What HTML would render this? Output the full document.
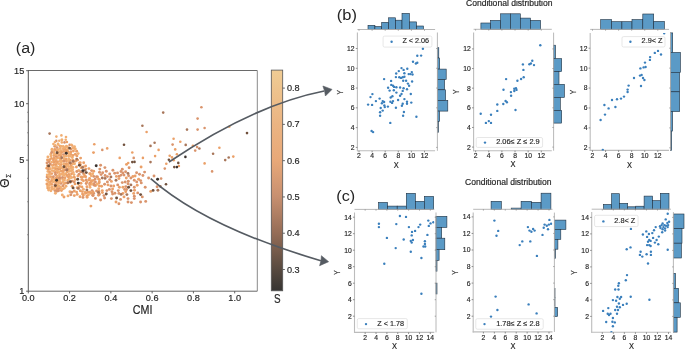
<!DOCTYPE html>
<html><head><meta charset="utf-8"><style>
html,body{margin:0;padding:0;background:#fff;width:685px;height:350px;overflow:hidden}
svg{display:block;font-family:"Liberation Sans",sans-serif;will-change:transform;filter:blur(0.3px)}
</style></head><body>
<svg width="685" height="350" viewBox="0 0 685 350" font-family="'Liberation Sans', sans-serif">
<rect width="685" height="350" fill="#fff"/>
<clipPath id="ca"><rect x="28.3" y="70.5" width="229.0" height="220.7"/></clipPath>
<g clip-path="url(#ca)">
<circle cx="53.7" cy="151.8" r="1.45" fill="#f1ae72"/>
<circle cx="57.0" cy="147.6" r="1.45" fill="#da946c"/>
<circle cx="56.7" cy="187.0" r="1.45" fill="#f1ae72"/>
<circle cx="50.7" cy="176.6" r="1.45" fill="#eba068"/>
<circle cx="61.3" cy="164.6" r="1.45" fill="#eba068"/>
<circle cx="47.5" cy="160.0" r="1.45" fill="#eba068"/>
<circle cx="49.4" cy="174.2" r="1.45" fill="#f1ae72"/>
<circle cx="55.2" cy="172.5" r="1.45" fill="#da946c"/>
<circle cx="64.4" cy="166.2" r="1.45" fill="#f1ae72"/>
<circle cx="61.6" cy="167.6" r="1.45" fill="#f1ae72"/>
<circle cx="67.8" cy="180.3" r="1.45" fill="#f1ae72"/>
<circle cx="61.2" cy="171.3" r="1.45" fill="#eba068"/>
<circle cx="65.9" cy="159.0" r="1.45" fill="#eba068"/>
<circle cx="47.5" cy="165.7" r="1.45" fill="#eba068"/>
<circle cx="48.6" cy="169.4" r="1.45" fill="#da946c"/>
<circle cx="64.0" cy="183.8" r="1.45" fill="#f1ae72"/>
<circle cx="70.3" cy="160.3" r="1.45" fill="#eba068"/>
<circle cx="61.8" cy="174.2" r="1.45" fill="#f1ae72"/>
<circle cx="58.2" cy="178.5" r="1.45" fill="#da946c"/>
<circle cx="65.0" cy="177.7" r="1.45" fill="#eba068"/>
<circle cx="68.7" cy="158.8" r="1.45" fill="#f1ae72"/>
<circle cx="57.9" cy="152.7" r="1.45" fill="#f1ae72"/>
<circle cx="47.9" cy="156.9" r="1.45" fill="#f1ae72"/>
<circle cx="57.5" cy="172.6" r="1.45" fill="#eba068"/>
<circle cx="52.4" cy="165.6" r="1.45" fill="#f1ae72"/>
<circle cx="51.0" cy="156.1" r="1.45" fill="#f1ae72"/>
<circle cx="56.6" cy="163.2" r="1.45" fill="#f1ae72"/>
<circle cx="59.5" cy="176.1" r="1.45" fill="#eba068"/>
<circle cx="67.9" cy="164.4" r="1.45" fill="#f1ae72"/>
<circle cx="47.1" cy="177.0" r="1.45" fill="#da946c"/>
<circle cx="48.9" cy="161.7" r="1.45" fill="#da946c"/>
<circle cx="47.0" cy="162.9" r="1.45" fill="#da946c"/>
<circle cx="70.2" cy="175.9" r="1.45" fill="#f1ae72"/>
<circle cx="51.6" cy="162.1" r="1.45" fill="#f1ae72"/>
<circle cx="47.7" cy="188.1" r="1.45" fill="#eba068"/>
<circle cx="58.0" cy="169.2" r="1.45" fill="#da946c"/>
<circle cx="51.9" cy="187.1" r="1.45" fill="#f1ae72"/>
<circle cx="59.8" cy="151.6" r="1.45" fill="#f1ae72"/>
<circle cx="67.2" cy="171.7" r="1.45" fill="#eba068"/>
<circle cx="53.9" cy="155.6" r="1.45" fill="#eba068"/>
<circle cx="66.2" cy="155.8" r="1.45" fill="#f1ae72"/>
<circle cx="51.8" cy="180.0" r="1.45" fill="#eba068"/>
<circle cx="50.8" cy="154.2" r="1.45" fill="#f1ae72"/>
<circle cx="69.2" cy="168.9" r="1.45" fill="#f1ae72"/>
<circle cx="67.5" cy="183.0" r="1.45" fill="#f1ae72"/>
<circle cx="49.4" cy="185.0" r="1.45" fill="#f1ae72"/>
<circle cx="55.9" cy="164.9" r="1.45" fill="#eba068"/>
<circle cx="65.7" cy="152.8" r="1.45" fill="#f1ae72"/>
<circle cx="68.2" cy="151.6" r="1.45" fill="#eba068"/>
<circle cx="57.0" cy="189.3" r="1.45" fill="#eba068"/>
<circle cx="56.6" cy="150.8" r="1.45" fill="#eba068"/>
<circle cx="54.6" cy="167.8" r="1.45" fill="#f1ae72"/>
<circle cx="71.1" cy="165.9" r="1.45" fill="#eba068"/>
<circle cx="59.0" cy="171.7" r="1.45" fill="#f1ae72"/>
<circle cx="58.2" cy="181.7" r="1.45" fill="#f1ae72"/>
<circle cx="53.8" cy="171.0" r="1.45" fill="#f1ae72"/>
<circle cx="67.5" cy="149.5" r="1.45" fill="#f1ae72"/>
<circle cx="51.5" cy="158.4" r="1.45" fill="#eba068"/>
<circle cx="57.3" cy="175.9" r="1.45" fill="#f1ae72"/>
<circle cx="59.4" cy="180.0" r="1.45" fill="#f1ae72"/>
<circle cx="60.0" cy="168.9" r="1.45" fill="#eba068"/>
<circle cx="72.3" cy="157.5" r="1.45" fill="#f1ae72"/>
<circle cx="70.9" cy="152.0" r="1.45" fill="#eba068"/>
<circle cx="63.8" cy="151.4" r="1.45" fill="#eba068"/>
<circle cx="73.0" cy="155.4" r="1.45" fill="#eba068"/>
<circle cx="55.9" cy="169.3" r="1.45" fill="#eba068"/>
<circle cx="56.9" cy="170.8" r="1.45" fill="#f1ae72"/>
<circle cx="52.1" cy="150.7" r="1.45" fill="#f1ae72"/>
<circle cx="71.6" cy="173.7" r="1.45" fill="#eba068"/>
<circle cx="63.0" cy="185.7" r="1.45" fill="#da946c"/>
<circle cx="47.9" cy="171.4" r="1.45" fill="#f1ae72"/>
<circle cx="53.4" cy="159.9" r="1.45" fill="#eba068"/>
<circle cx="60.5" cy="153.9" r="1.45" fill="#f1ae72"/>
<circle cx="68.6" cy="166.5" r="1.45" fill="#f1ae72"/>
<circle cx="73.5" cy="161.8" r="1.45" fill="#eba068"/>
<circle cx="51.7" cy="152.5" r="1.45" fill="#da946c"/>
<circle cx="64.1" cy="158.7" r="1.45" fill="#f1ae72"/>
<circle cx="52.8" cy="167.9" r="1.45" fill="#f1ae72"/>
<circle cx="57.4" cy="157.7" r="1.45" fill="#eba068"/>
<circle cx="73.2" cy="172.4" r="1.45" fill="#f1ae72"/>
<circle cx="73.0" cy="160.1" r="1.45" fill="#f1ae72"/>
<circle cx="55.7" cy="161.0" r="1.45" fill="#eba068"/>
<circle cx="48.5" cy="181.7" r="1.45" fill="#f1ae72"/>
<circle cx="66.0" cy="186.2" r="1.45" fill="#f1ae72"/>
<circle cx="68.8" cy="174.4" r="1.45" fill="#eba068"/>
<circle cx="64.5" cy="180.1" r="1.45" fill="#f1ae72"/>
<circle cx="54.8" cy="149.5" r="1.45" fill="#eba068"/>
<circle cx="62.8" cy="179.4" r="1.45" fill="#f1ae72"/>
<circle cx="60.1" cy="178.3" r="1.45" fill="#da946c"/>
<circle cx="58.8" cy="163.9" r="1.45" fill="#f1ae72"/>
<circle cx="62.5" cy="177.4" r="1.45" fill="#da946c"/>
<circle cx="70.8" cy="154.4" r="1.45" fill="#eba068"/>
<circle cx="73.0" cy="167.4" r="1.45" fill="#f1ae72"/>
<circle cx="50.9" cy="190.7" r="1.45" fill="#f1ae72"/>
<circle cx="58.8" cy="167.4" r="1.45" fill="#f1ae72"/>
<circle cx="74.0" cy="174.6" r="1.45" fill="#f1ae72"/>
<circle cx="52.0" cy="170.6" r="1.45" fill="#f1ae72"/>
<circle cx="66.0" cy="167.4" r="1.45" fill="#eba068"/>
<circle cx="51.8" cy="178.1" r="1.45" fill="#f1ae72"/>
<circle cx="58.9" cy="155.4" r="1.45" fill="#eba068"/>
<circle cx="51.8" cy="173.6" r="1.45" fill="#eba068"/>
<circle cx="66.5" cy="165.5" r="1.45" fill="#f1ae72"/>
<circle cx="62.9" cy="188.9" r="1.45" fill="#f1ae72"/>
<circle cx="59.7" cy="174.3" r="1.45" fill="#f1ae72"/>
<circle cx="56.6" cy="179.5" r="1.45" fill="#f1ae72"/>
<circle cx="68.6" cy="156.0" r="1.45" fill="#f1ae72"/>
<circle cx="72.6" cy="169.8" r="1.45" fill="#f1ae72"/>
<circle cx="63.9" cy="163.7" r="1.45" fill="#f1ae72"/>
<circle cx="54.9" cy="190.6" r="1.45" fill="#da946c"/>
<circle cx="54.2" cy="158.2" r="1.45" fill="#eba068"/>
<circle cx="72.6" cy="164.1" r="1.45" fill="#f1ae72"/>
<circle cx="62.2" cy="161.0" r="1.45" fill="#f1ae72"/>
<circle cx="54.9" cy="184.7" r="1.45" fill="#da946c"/>
<circle cx="49.9" cy="183.2" r="1.45" fill="#f1ae72"/>
<circle cx="69.4" cy="178.6" r="1.45" fill="#f1ae72"/>
<circle cx="48.6" cy="190.0" r="1.45" fill="#f1ae72"/>
<circle cx="53.8" cy="164.6" r="1.45" fill="#eba068"/>
<circle cx="51.8" cy="184.4" r="1.45" fill="#eba068"/>
<circle cx="47.2" cy="175.0" r="1.45" fill="#f1ae72"/>
<circle cx="63.5" cy="154.6" r="1.45" fill="#da946c"/>
<circle cx="53.8" cy="179.3" r="1.45" fill="#f1ae72"/>
<circle cx="63.2" cy="148.7" r="1.45" fill="#f1ae72"/>
<circle cx="61.0" cy="162.6" r="1.45" fill="#f1ae72"/>
<circle cx="68.9" cy="153.5" r="1.45" fill="#f1ae72"/>
<circle cx="60.9" cy="183.4" r="1.45" fill="#da946c"/>
<circle cx="58.2" cy="149.6" r="1.45" fill="#f1ae72"/>
<circle cx="63.3" cy="173.2" r="1.45" fill="#f1ae72"/>
<circle cx="56.2" cy="156.4" r="1.45" fill="#da946c"/>
<circle cx="57.1" cy="185.0" r="1.45" fill="#f1ae72"/>
<circle cx="66.4" cy="161.0" r="1.45" fill="#eba068"/>
<circle cx="65.7" cy="173.7" r="1.45" fill="#f1ae72"/>
<circle cx="54.9" cy="186.5" r="1.45" fill="#eba068"/>
<circle cx="68.4" cy="177.0" r="1.45" fill="#eba068"/>
<circle cx="65.0" cy="169.9" r="1.45" fill="#da946c"/>
<circle cx="70.5" cy="156.1" r="1.45" fill="#f1ae72"/>
<circle cx="49.1" cy="166.8" r="1.45" fill="#eba068"/>
<circle cx="61.4" cy="150.6" r="1.45" fill="#f1ae72"/>
<circle cx="49.7" cy="159.7" r="1.45" fill="#eba068"/>
<circle cx="50.2" cy="164.2" r="1.45" fill="#da946c"/>
<circle cx="56.1" cy="182.5" r="1.45" fill="#eba068"/>
<circle cx="50.9" cy="181.6" r="1.45" fill="#eba068"/>
<circle cx="53.4" cy="176.7" r="1.45" fill="#da946c"/>
<circle cx="60.9" cy="155.8" r="1.45" fill="#eba068"/>
<circle cx="69.0" cy="162.4" r="1.45" fill="#eba068"/>
<circle cx="58.5" cy="190.7" r="1.45" fill="#da946c"/>
<circle cx="54.2" cy="188.8" r="1.45" fill="#f1ae72"/>
<circle cx="60.6" cy="187.0" r="1.45" fill="#f1ae72"/>
<circle cx="59.1" cy="158.1" r="1.45" fill="#f1ae72"/>
<circle cx="47.6" cy="186.1" r="1.45" fill="#f1ae72"/>
<circle cx="53.3" cy="181.9" r="1.45" fill="#f1ae72"/>
<circle cx="70.6" cy="163.6" r="1.45" fill="#eba068"/>
<circle cx="61.4" cy="190.6" r="1.45" fill="#eba068"/>
<circle cx="48.3" cy="179.2" r="1.45" fill="#da946c"/>
<circle cx="57.6" cy="161.7" r="1.45" fill="#eba068"/>
<circle cx="50.3" cy="168.8" r="1.45" fill="#f1ae72"/>
<circle cx="69.0" cy="171.4" r="1.45" fill="#f1ae72"/>
<circle cx="46.9" cy="180.3" r="1.45" fill="#f1ae72"/>
<circle cx="65.1" cy="149.3" r="1.45" fill="#eba068"/>
<circle cx="56.2" cy="159.0" r="1.45" fill="#f1ae72"/>
<circle cx="55.5" cy="174.5" r="1.45" fill="#da946c"/>
<circle cx="54.1" cy="162.3" r="1.45" fill="#eba068"/>
<circle cx="56.8" cy="191.3" r="1.45" fill="#da946c"/>
<circle cx="49.4" cy="187.7" r="1.45" fill="#f1ae72"/>
<circle cx="56.3" cy="154.5" r="1.45" fill="#f1ae72"/>
<circle cx="64.1" cy="156.4" r="1.45" fill="#f1ae72"/>
<circle cx="71.6" cy="177.5" r="1.45" fill="#f1ae72"/>
<circle cx="60.6" cy="159.1" r="1.45" fill="#eba068"/>
<circle cx="49.6" cy="171.9" r="1.45" fill="#eba068"/>
<circle cx="63.7" cy="175.3" r="1.45" fill="#f1ae72"/>
<circle cx="66.3" cy="163.7" r="1.45" fill="#eba068"/>
<circle cx="55.0" cy="181.1" r="1.45" fill="#f1ae72"/>
<circle cx="56.2" cy="177.7" r="1.45" fill="#eba068"/>
<circle cx="64.0" cy="161.1" r="1.45" fill="#da946c"/>
<circle cx="46.8" cy="168.2" r="1.45" fill="#eba068"/>
<circle cx="60.2" cy="148.6" r="1.45" fill="#f1ae72"/>
<circle cx="66.4" cy="151.0" r="1.45" fill="#eba068"/>
<circle cx="60.6" cy="188.8" r="1.45" fill="#f1ae72"/>
<circle cx="62.9" cy="181.7" r="1.45" fill="#f1ae72"/>
<circle cx="60.0" cy="181.7" r="1.45" fill="#f1ae72"/>
<circle cx="54.2" cy="153.8" r="1.45" fill="#f1ae72"/>
<circle cx="66.9" cy="175.5" r="1.45" fill="#eba068"/>
<circle cx="65.6" cy="183.0" r="1.45" fill="#eba068"/>
<circle cx="63.2" cy="168.8" r="1.45" fill="#f1ae72"/>
<circle cx="61.7" cy="152.4" r="1.45" fill="#eba068"/>
<circle cx="58.9" cy="186.1" r="1.45" fill="#f1ae72"/>
<circle cx="60.0" cy="161.0" r="1.45" fill="#f1ae72"/>
<circle cx="46.9" cy="183.9" r="1.45" fill="#eba068"/>
<circle cx="64.5" cy="188.1" r="1.45" fill="#f1ae72"/>
<circle cx="60.3" cy="166.1" r="1.45" fill="#f1ae72"/>
<circle cx="58.8" cy="183.4" r="1.45" fill="#f1ae72"/>
<circle cx="56.6" cy="166.5" r="1.45" fill="#f1ae72"/>
<circle cx="71.0" cy="170.8" r="1.45" fill="#f1ae72"/>
<circle cx="48.9" cy="176.7" r="1.45" fill="#f1ae72"/>
<circle cx="71.0" cy="167.8" r="1.45" fill="#f1ae72"/>
<circle cx="63.1" cy="171.3" r="1.45" fill="#eba068"/>
<circle cx="51.9" cy="189.1" r="1.45" fill="#f1ae72"/>
<circle cx="58.7" cy="188.6" r="1.45" fill="#da946c"/>
<circle cx="68.1" cy="160.6" r="1.45" fill="#f1ae72"/>
<circle cx="67.1" cy="169.5" r="1.45" fill="#da946c"/>
<circle cx="66.4" cy="146.3" r="1.45" fill="#f1ae72"/>
<circle cx="61.8" cy="142.4" r="1.3" fill="#f1ae72"/>
<circle cx="69.6" cy="144.9" r="1.3" fill="#da946c"/>
<circle cx="76.7" cy="151.3" r="1.45" fill="#eba068"/>
<circle cx="56.3" cy="140.9" r="1.3" fill="#da946c"/>
<circle cx="53.4" cy="144.0" r="1.3" fill="#f1ae72"/>
<circle cx="62.1" cy="139.8" r="1.3" fill="#f1ae72"/>
<circle cx="72.1" cy="145.6" r="1.3" fill="#eba068"/>
<circle cx="73.4" cy="151.0" r="1.45" fill="#eba068"/>
<circle cx="63.2" cy="146.4" r="1.45" fill="#f1ae72"/>
<circle cx="76.9" cy="155.9" r="1.45" fill="#eba068"/>
<circle cx="66.9" cy="142.0" r="1.3" fill="#eba068"/>
<circle cx="70.9" cy="149.0" r="1.45" fill="#da946c"/>
<circle cx="75.4" cy="154.2" r="1.45" fill="#eba068"/>
<circle cx="64.5" cy="142.4" r="1.3" fill="#da946c"/>
<circle cx="74.5" cy="146.7" r="1.45" fill="#f1ae72"/>
<circle cx="58.1" cy="143.7" r="1.3" fill="#f1ae72"/>
<circle cx="59.3" cy="140.7" r="1.3" fill="#f1ae72"/>
<circle cx="78.2" cy="153.6" r="1.45" fill="#f1ae72"/>
<circle cx="60.3" cy="146.2" r="1.45" fill="#eba068"/>
<circle cx="75.3" cy="149.0" r="1.45" fill="#f1ae72"/>
<circle cx="54.8" cy="146.2" r="1.45" fill="#da946c"/>
<circle cx="98.5" cy="195.3" r="1.45" fill="#eba068"/>
<circle cx="89.6" cy="178.4" r="1.45" fill="#eba068"/>
<circle cx="90.3" cy="173.8" r="1.45" fill="#f1ae72"/>
<circle cx="81.0" cy="183.3" r="1.45" fill="#eba068"/>
<circle cx="78.7" cy="170.5" r="1.45" fill="#f1ae72"/>
<circle cx="83.7" cy="162.8" r="1.45" fill="#eba068"/>
<circle cx="89.9" cy="183.2" r="1.45" fill="#da946c"/>
<circle cx="74.5" cy="163.8" r="1.45" fill="#f1ae72"/>
<circle cx="99.0" cy="193.4" r="1.45" fill="#eba068"/>
<circle cx="80.6" cy="171.8" r="1.45" fill="#da946c"/>
<circle cx="83.0" cy="197.4" r="1.45" fill="#da946c"/>
<circle cx="95.6" cy="185.5" r="1.45" fill="#eba068"/>
<circle cx="75.7" cy="161.0" r="1.45" fill="#eba068"/>
<circle cx="92.7" cy="173.7" r="1.45" fill="#f1ae72"/>
<circle cx="83.4" cy="189.2" r="1.45" fill="#f1ae72"/>
<circle cx="77.9" cy="175.9" r="1.45" fill="#eba068"/>
<circle cx="92.1" cy="190.6" r="1.45" fill="#da946c"/>
<circle cx="84.7" cy="176.3" r="1.45" fill="#eba068"/>
<circle cx="97.6" cy="176.9" r="1.45" fill="#eba068"/>
<circle cx="93.4" cy="180.4" r="1.45" fill="#eba068"/>
<circle cx="72.1" cy="181.1" r="1.45" fill="#da946c"/>
<circle cx="72.1" cy="186.2" r="1.45" fill="#eba068"/>
<circle cx="90.0" cy="187.3" r="1.45" fill="#f1ae72"/>
<circle cx="92.7" cy="195.2" r="1.45" fill="#eba068"/>
<circle cx="84.9" cy="192.1" r="1.45" fill="#f1ae72"/>
<circle cx="91.6" cy="170.6" r="1.45" fill="#da946c"/>
<circle cx="79.5" cy="163.1" r="1.45" fill="#eba068"/>
<circle cx="95.2" cy="179.0" r="1.45" fill="#da946c"/>
<circle cx="81.8" cy="179.6" r="1.45" fill="#eba068"/>
<circle cx="91.4" cy="181.7" r="1.45" fill="#eba068"/>
<circle cx="84.0" cy="174.2" r="1.45" fill="#eba068"/>
<circle cx="77.2" cy="194.4" r="1.45" fill="#eba068"/>
<circle cx="87.1" cy="197.2" r="1.45" fill="#eba068"/>
<circle cx="93.7" cy="176.4" r="1.45" fill="#da946c"/>
<circle cx="74.2" cy="181.8" r="1.45" fill="#da946c"/>
<circle cx="80.3" cy="190.8" r="1.45" fill="#eba068"/>
<circle cx="93.7" cy="171.2" r="1.45" fill="#eba068"/>
<circle cx="70.3" cy="182.3" r="1.45" fill="#da946c"/>
<circle cx="93.9" cy="183.7" r="1.45" fill="#da946c"/>
<circle cx="86.3" cy="180.0" r="1.45" fill="#da946c"/>
<circle cx="69.9" cy="191.8" r="1.45" fill="#f1ae72"/>
<circle cx="76.8" cy="171.5" r="1.45" fill="#da946c"/>
<circle cx="70.8" cy="194.8" r="1.45" fill="#da946c"/>
<circle cx="81.0" cy="176.9" r="1.45" fill="#eba068"/>
<circle cx="79.6" cy="186.4" r="1.45" fill="#eba068"/>
<circle cx="86.9" cy="186.8" r="1.45" fill="#eba068"/>
<circle cx="75.0" cy="183.9" r="1.45" fill="#eba068"/>
<circle cx="98.7" cy="188.7" r="1.45" fill="#f1ae72"/>
<circle cx="88.9" cy="168.6" r="1.45" fill="#eba068"/>
<circle cx="86.2" cy="183.5" r="1.45" fill="#da946c"/>
<circle cx="71.9" cy="192.2" r="1.45" fill="#da946c"/>
<circle cx="90.9" cy="193.3" r="1.45" fill="#eba068"/>
<circle cx="99.0" cy="182.9" r="1.45" fill="#eba068"/>
<circle cx="81.1" cy="167.8" r="1.45" fill="#f1ae72"/>
<circle cx="79.1" cy="174.2" r="1.45" fill="#da946c"/>
<circle cx="81.9" cy="186.9" r="1.45" fill="#eba068"/>
<circle cx="98.5" cy="179.1" r="1.45" fill="#eba068"/>
<circle cx="80.4" cy="164.8" r="1.45" fill="#eba068"/>
<circle cx="78.2" cy="184.1" r="1.45" fill="#f1ae72"/>
<circle cx="76.4" cy="167.0" r="1.45" fill="#eba068"/>
<circle cx="82.5" cy="194.1" r="1.45" fill="#eba068"/>
<circle cx="85.6" cy="166.0" r="1.45" fill="#eba068"/>
<circle cx="83.3" cy="167.0" r="1.45" fill="#eba068"/>
<circle cx="77.2" cy="187.7" r="1.45" fill="#eba068"/>
<circle cx="97.1" cy="184.2" r="1.45" fill="#f1ae72"/>
<circle cx="98.9" cy="191.2" r="1.45" fill="#eba068"/>
<circle cx="75.3" cy="179.6" r="1.45" fill="#f1ae72"/>
<circle cx="88.5" cy="194.7" r="1.45" fill="#f1ae72"/>
<circle cx="87.7" cy="192.3" r="1.45" fill="#eba068"/>
<circle cx="91.3" cy="175.8" r="1.45" fill="#f1ae72"/>
<circle cx="93.7" cy="193.4" r="1.45" fill="#da946c"/>
<circle cx="91.9" cy="184.3" r="1.45" fill="#f1ae72"/>
<circle cx="141.3" cy="182.9" r="1.45" fill="#da946c"/>
<circle cx="138.6" cy="179.3" r="1.45" fill="#eba068"/>
<circle cx="99.5" cy="172.2" r="1.45" fill="#da946c"/>
<circle cx="102.4" cy="192.6" r="1.45" fill="#eba068"/>
<circle cx="134.5" cy="190.3" r="1.45" fill="#eba068"/>
<circle cx="126.6" cy="189.5" r="1.45" fill="#da946c"/>
<circle cx="114.7" cy="173.3" r="1.45" fill="#da946c"/>
<circle cx="132.9" cy="176.5" r="1.45" fill="#eba068"/>
<circle cx="135.1" cy="176.0" r="1.45" fill="#eba068"/>
<circle cx="116.4" cy="176.4" r="1.45" fill="#eba068"/>
<circle cx="114.9" cy="193.2" r="1.45" fill="#da946c"/>
<circle cx="112.9" cy="170.2" r="1.45" fill="#da946c"/>
<circle cx="101.6" cy="186.3" r="1.45" fill="#eba068"/>
<circle cx="125.6" cy="171.7" r="1.45" fill="#da946c"/>
<circle cx="103.9" cy="195.6" r="1.45" fill="#da946c"/>
<circle cx="109.4" cy="189.4" r="1.45" fill="#da946c"/>
<circle cx="128.3" cy="181.3" r="1.45" fill="#da946c"/>
<circle cx="137.2" cy="185.3" r="1.45" fill="#eba068"/>
<circle cx="136.7" cy="181.9" r="1.45" fill="#da946c"/>
<circle cx="121.0" cy="171.5" r="1.45" fill="#da946c"/>
<circle cx="119.2" cy="176.3" r="1.45" fill="#da946c"/>
<circle cx="120.5" cy="199.4" r="1.45" fill="#da946c"/>
<circle cx="117.5" cy="172.9" r="1.45" fill="#da946c"/>
<circle cx="140.6" cy="180.6" r="1.45" fill="#da946c"/>
<circle cx="99.3" cy="182.0" r="1.45" fill="#eba068"/>
<circle cx="125.8" cy="186.6" r="1.45" fill="#da946c"/>
<circle cx="99.3" cy="194.4" r="1.45" fill="#da946c"/>
<circle cx="102.7" cy="172.7" r="1.45" fill="#da946c"/>
<circle cx="201.4" cy="107.2" r="1.3" fill="#da946c"/>
<circle cx="197.6" cy="118.6" r="1.3" fill="#da946c"/>
<circle cx="197.6" cy="129.6" r="1.3" fill="#da946c"/>
<circle cx="204.6" cy="128.0" r="1.3" fill="#da946c"/>
<circle cx="229.3" cy="126.8" r="1.3" fill="#f1ae72"/>
<circle cx="146.6" cy="132.0" r="1.3" fill="#eba068"/>
<circle cx="173.6" cy="138.8" r="1.3" fill="#eba068"/>
<circle cx="56.4" cy="136.6" r="1.3" fill="#f1ae72"/>
<circle cx="61.4" cy="135.4" r="1.3" fill="#f1ae72"/>
<circle cx="66.0" cy="137.0" r="1.3" fill="#f1ae72"/>
<circle cx="102.3" cy="149.9" r="1.3" fill="#da946c"/>
<circle cx="107.2" cy="148.4" r="1.3" fill="#eba068"/>
<circle cx="132.3" cy="152.5" r="1.3" fill="#eba068"/>
<circle cx="119.7" cy="157.9" r="1.3" fill="#eba068"/>
<circle cx="133.7" cy="157.9" r="1.3" fill="#da946c"/>
<circle cx="126.5" cy="164.4" r="1.45" fill="#eba068"/>
<circle cx="128.2" cy="163.0" r="1.3" fill="#eba068"/>
<circle cx="129.1" cy="167.8" r="1.45" fill="#da946c"/>
<circle cx="122.3" cy="169.3" r="1.45" fill="#da946c"/>
<circle cx="141.1" cy="167.0" r="1.45" fill="#eba068"/>
<circle cx="142.9" cy="157.9" r="1.3" fill="#eba068"/>
<circle cx="158.6" cy="149.9" r="1.3" fill="#eba068"/>
<circle cx="155.1" cy="156.1" r="1.3" fill="#eba068"/>
<circle cx="104.9" cy="167.6" r="1.45" fill="#da946c"/>
<circle cx="100.6" cy="165.3" r="1.45" fill="#da946c"/>
<circle cx="106.3" cy="171.3" r="1.45" fill="#da946c"/>
<circle cx="109.7" cy="173.9" r="1.45" fill="#da946c"/>
<circle cx="144.6" cy="172.1" r="1.45" fill="#da946c"/>
<circle cx="136.6" cy="172.7" r="1.45" fill="#da946c"/>
<circle cx="180.3" cy="141.8" r="1.3" fill="#eba068"/>
<circle cx="172.6" cy="144.6" r="1.3" fill="#da946c"/>
<circle cx="175.2" cy="149.4" r="1.3" fill="#eba068"/>
<circle cx="192.9" cy="145.8" r="1.3" fill="#eba068"/>
<circle cx="197.1" cy="147.1" r="1.3" fill="#da946c"/>
<circle cx="195.2" cy="150.6" r="1.3" fill="#da946c"/>
<circle cx="176.9" cy="154.2" r="1.3" fill="#eba068"/>
<circle cx="169.7" cy="155.7" r="1.3" fill="#eba068"/>
<circle cx="172.0" cy="157.4" r="1.3" fill="#eba068"/>
<circle cx="173.7" cy="160.3" r="1.3" fill="#eba068"/>
<circle cx="219.4" cy="147.7" r="1.3" fill="#eba068"/>
<circle cx="204.6" cy="163.4" r="1.3" fill="#eba068"/>
<circle cx="166.3" cy="163.7" r="1.3" fill="#eba068"/>
<circle cx="178.9" cy="166.0" r="1.3" fill="#eba068"/>
<circle cx="164.8" cy="168.6" r="1.3" fill="#da946c"/>
<circle cx="233.3" cy="156.6" r="1.3" fill="#eba068"/>
<circle cx="212.1" cy="171.4" r="1.3" fill="#da946c"/>
<circle cx="154.0" cy="176.0" r="1.45" fill="#da946c"/>
<circle cx="161.1" cy="178.6" r="1.3" fill="#da946c"/>
<circle cx="157.1" cy="186.7" r="1.45" fill="#da946c"/>
<circle cx="150.7" cy="191.4" r="1.45" fill="#eba068"/>
<circle cx="101.1" cy="174.6" r="1.45" fill="#da946c"/>
<circle cx="105.1" cy="175.5" r="1.45" fill="#da946c"/>
<circle cx="122.9" cy="172.9" r="1.45" fill="#da946c"/>
<circle cx="121.2" cy="175.1" r="1.45" fill="#da946c"/>
<circle cx="124.0" cy="175.1" r="1.45" fill="#da946c"/>
<circle cx="128.6" cy="175.7" r="1.45" fill="#da946c"/>
<circle cx="130.9" cy="178.0" r="1.45" fill="#da946c"/>
<circle cx="126.3" cy="178.0" r="1.45" fill="#eba068"/>
<circle cx="139.5" cy="174.3" r="1.45" fill="#da946c"/>
<circle cx="142.9" cy="175.5" r="1.45" fill="#da946c"/>
<circle cx="148.6" cy="178.0" r="1.45" fill="#da946c"/>
<circle cx="118.9" cy="178.6" r="1.45" fill="#eba068"/>
<circle cx="111.4" cy="181.4" r="1.45" fill="#eba068"/>
<circle cx="122.3" cy="182.6" r="1.45" fill="#da946c"/>
<circle cx="125.2" cy="182.0" r="1.45" fill="#da946c"/>
<circle cx="128.0" cy="183.7" r="1.45" fill="#da946c"/>
<circle cx="134.3" cy="180.3" r="1.45" fill="#da946c"/>
<circle cx="104.6" cy="184.3" r="1.45" fill="#da946c"/>
<circle cx="108.0" cy="184.9" r="1.45" fill="#eba068"/>
<circle cx="110.9" cy="186.0" r="1.45" fill="#da946c"/>
<circle cx="113.7" cy="186.0" r="1.45" fill="#eba068"/>
<circle cx="117.7" cy="184.9" r="1.45" fill="#da946c"/>
<circle cx="119.4" cy="187.2" r="1.45" fill="#eba068"/>
<circle cx="122.9" cy="187.2" r="1.45" fill="#eba068"/>
<circle cx="134.3" cy="187.2" r="1.45" fill="#da946c"/>
<circle cx="145.2" cy="187.2" r="1.45" fill="#da946c"/>
<circle cx="102.3" cy="190.6" r="1.45" fill="#eba068"/>
<circle cx="106.9" cy="190.6" r="1.45" fill="#da946c"/>
<circle cx="112.6" cy="188.9" r="1.45" fill="#eba068"/>
<circle cx="112.0" cy="191.7" r="1.45" fill="#da946c"/>
<circle cx="118.3" cy="190.6" r="1.45" fill="#da946c"/>
<circle cx="124.6" cy="189.4" r="1.45" fill="#da946c"/>
<circle cx="125.7" cy="191.7" r="1.45" fill="#eba068"/>
<circle cx="137.7" cy="192.9" r="1.45" fill="#da946c"/>
<circle cx="112.6" cy="194.0" r="1.45" fill="#da946c"/>
<circle cx="118.9" cy="193.4" r="1.45" fill="#da946c"/>
<circle cx="122.9" cy="193.4" r="1.45" fill="#eba068"/>
<circle cx="133.7" cy="193.4" r="1.45" fill="#eba068"/>
<circle cx="142.3" cy="196.9" r="1.45" fill="#da946c"/>
<circle cx="104.6" cy="198.0" r="1.45" fill="#da946c"/>
<circle cx="111.4" cy="198.6" r="1.45" fill="#da946c"/>
<circle cx="124.0" cy="196.9" r="1.45" fill="#eba068"/>
<circle cx="128.0" cy="198.6" r="1.45" fill="#da946c"/>
<circle cx="134.3" cy="196.3" r="1.45" fill="#da946c"/>
<circle cx="134.3" cy="198.6" r="1.45" fill="#da946c"/>
<circle cx="100.6" cy="200.0" r="1.45" fill="#da946c"/>
<circle cx="116.0" cy="202.0" r="1.45" fill="#eba068"/>
<circle cx="118.9" cy="203.7" r="1.45" fill="#da946c"/>
<circle cx="128.0" cy="202.0" r="1.45" fill="#da946c"/>
<circle cx="131.4" cy="202.6" r="1.45" fill="#da946c"/>
<circle cx="140.6" cy="202.0" r="1.45" fill="#da946c"/>
<circle cx="145.7" cy="201.4" r="1.45" fill="#da946c"/>
<circle cx="61.7" cy="139.8" r="1.3" fill="#f1ae72"/>
<circle cx="65.7" cy="139.8" r="1.3" fill="#f1ae72"/>
<circle cx="54.9" cy="142.1" r="1.3" fill="#f1ae72"/>
<circle cx="55.4" cy="145.3" r="1.3" fill="#f1ae72"/>
<circle cx="58.3" cy="144.7" r="1.3" fill="#f1ae72"/>
<circle cx="71.4" cy="144.7" r="1.3" fill="#f1ae72"/>
<circle cx="52.0" cy="149.3" r="1.45" fill="#f1ae72"/>
<circle cx="73.1" cy="148.1" r="1.45" fill="#f1ae72"/>
<circle cx="64.6" cy="147.6" r="1.45" fill="#f1ae72"/>
<circle cx="67.4" cy="147.0" r="1.45" fill="#f1ae72"/>
<circle cx="61.1" cy="146.4" r="1.45" fill="#f1ae72"/>
<circle cx="77.7" cy="160.1" r="1.45" fill="#eba068"/>
<circle cx="62.3" cy="195.0" r="1.45" fill="#f1ae72"/>
<circle cx="68.0" cy="195.9" r="1.45" fill="#f1ae72"/>
<circle cx="55.4" cy="193.3" r="1.45" fill="#f1ae72"/>
<circle cx="64.0" cy="197.0" r="1.45" fill="#eba068"/>
<circle cx="94.3" cy="144.3" r="1.3" fill="#eba068"/>
<circle cx="93.5" cy="152.6" r="1.45" fill="#eba068"/>
<circle cx="80.6" cy="158.1" r="1.45" fill="#eba068"/>
<circle cx="80.2" cy="162.6" r="1.45" fill="#eba068"/>
<circle cx="85.7" cy="169.1" r="1.45" fill="#eba068"/>
<circle cx="89.7" cy="173.7" r="1.45" fill="#eba068"/>
<circle cx="99.8" cy="169.1" r="1.45" fill="#da946c"/>
<circle cx="96.6" cy="176.6" r="1.45" fill="#da946c"/>
<circle cx="107.4" cy="176.6" r="1.45" fill="#da946c"/>
<circle cx="74.3" cy="177.3" r="1.45" fill="#eba068"/>
<circle cx="82.3" cy="177.3" r="1.45" fill="#eba068"/>
<circle cx="85.7" cy="176.7" r="1.45" fill="#eba068"/>
<circle cx="89.1" cy="180.1" r="1.45" fill="#eba068"/>
<circle cx="99.4" cy="179.6" r="1.45" fill="#eba068"/>
<circle cx="83.4" cy="180.7" r="1.45" fill="#eba068"/>
<circle cx="86.9" cy="181.9" r="1.45" fill="#eba068"/>
<circle cx="91.4" cy="180.7" r="1.45" fill="#eba068"/>
<circle cx="95.4" cy="181.9" r="1.45" fill="#da946c"/>
<circle cx="89.7" cy="184.7" r="1.45" fill="#eba068"/>
<circle cx="94.3" cy="185.3" r="1.45" fill="#da946c"/>
<circle cx="99.4" cy="185.9" r="1.45" fill="#eba068"/>
<circle cx="107.4" cy="181.9" r="1.45" fill="#da946c"/>
<circle cx="109.7" cy="179.6" r="1.45" fill="#da946c"/>
<circle cx="74.3" cy="191.0" r="1.45" fill="#eba068"/>
<circle cx="76.6" cy="192.1" r="1.45" fill="#eba068"/>
<circle cx="82.3" cy="191.6" r="1.45" fill="#eba068"/>
<circle cx="85.7" cy="193.3" r="1.45" fill="#eba068"/>
<circle cx="89.7" cy="192.1" r="1.45" fill="#eba068"/>
<circle cx="93.1" cy="192.1" r="1.45" fill="#eba068"/>
<circle cx="96.6" cy="191.0" r="1.45" fill="#da946c"/>
<circle cx="80.0" cy="196.7" r="1.45" fill="#eba068"/>
<circle cx="86.9" cy="196.1" r="1.45" fill="#eba068"/>
<circle cx="93.1" cy="195.6" r="1.45" fill="#da946c"/>
<circle cx="95.4" cy="198.4" r="1.45" fill="#da946c"/>
<circle cx="74.3" cy="195.6" r="1.45" fill="#eba068"/>
<circle cx="83.4" cy="195.0" r="1.45" fill="#eba068"/>
<circle cx="90.9" cy="206.1" r="1.45" fill="#eba068"/>
<circle cx="61.7" cy="157.7" r="1.45" fill="#a8765a"/>
<circle cx="82.8" cy="172.2" r="1.45" fill="#a8765a"/>
<circle cx="85.0" cy="170.4" r="1.45" fill="#a8765a"/>
<circle cx="76.7" cy="159.1" r="1.45" fill="#a8765a"/>
<circle cx="98.5" cy="192.4" r="1.45" fill="#a8765a"/>
<circle cx="121.1" cy="194.4" r="1.45" fill="#a8765a"/>
<circle cx="187.0" cy="129.6" r="1.3" fill="#a8765a"/>
<circle cx="247.0" cy="133.1" r="1.3" fill="#70503c"/>
<circle cx="163.2" cy="112.6" r="1.3" fill="#a8765a"/>
<circle cx="142.4" cy="125.8" r="1.3" fill="#a8765a"/>
<circle cx="49.6" cy="133.6" r="1.3" fill="#a8765a"/>
<circle cx="124.0" cy="144.7" r="1.3" fill="#70503c"/>
<circle cx="132.3" cy="162.1" r="1.3" fill="#70503c"/>
<circle cx="134.5" cy="161.9" r="1.3" fill="#70503c"/>
<circle cx="150.5" cy="145.9" r="1.3" fill="#a8765a"/>
<circle cx="154.6" cy="142.8" r="1.3" fill="#a8765a"/>
<circle cx="150.5" cy="162.1" r="1.3" fill="#a8765a"/>
<circle cx="185.7" cy="144.9" r="1.3" fill="#a8765a"/>
<circle cx="199.4" cy="148.5" r="1.3" fill="#a8765a"/>
<circle cx="168.9" cy="159.7" r="1.3" fill="#70503c"/>
<circle cx="185.4" cy="156.9" r="1.3" fill="#3a322e"/>
<circle cx="213.1" cy="153.8" r="1.3" fill="#a8765a"/>
<circle cx="178.3" cy="162.9" r="1.3" fill="#70503c"/>
<circle cx="174.3" cy="167.1" r="1.3" fill="#70503c"/>
<circle cx="176.9" cy="167.1" r="1.3" fill="#3a322e"/>
<circle cx="228.7" cy="157.5" r="1.3" fill="#a8765a"/>
<circle cx="225.2" cy="160.1" r="1.3" fill="#a8765a"/>
<circle cx="157.6" cy="179.3" r="1.45" fill="#3a322e"/>
<circle cx="166.0" cy="184.3" r="1.3" fill="#70503c"/>
<circle cx="160.4" cy="186.4" r="1.3" fill="#a8765a"/>
<circle cx="157.9" cy="190.3" r="1.45" fill="#a8765a"/>
<circle cx="153.1" cy="190.4" r="1.45" fill="#70503c"/>
<circle cx="102.3" cy="178.0" r="1.45" fill="#a8765a"/>
<circle cx="110.9" cy="176.9" r="1.45" fill="#a8765a"/>
<circle cx="128.0" cy="173.4" r="1.45" fill="#a8765a"/>
<circle cx="116.0" cy="180.3" r="1.45" fill="#a8765a"/>
<circle cx="128.6" cy="187.2" r="1.45" fill="#70503c"/>
<circle cx="130.9" cy="184.9" r="1.45" fill="#a8765a"/>
<circle cx="130.9" cy="190.6" r="1.45" fill="#70503c"/>
<circle cx="106.3" cy="194.0" r="1.45" fill="#70503c"/>
<circle cx="126.9" cy="194.6" r="1.45" fill="#a8765a"/>
<circle cx="140.6" cy="194.6" r="1.45" fill="#70503c"/>
<circle cx="116.6" cy="198.0" r="1.45" fill="#70503c"/>
<circle cx="57.1" cy="152.7" r="1.45" fill="#70503c"/>
<circle cx="66.3" cy="153.3" r="1.45" fill="#3a322e"/>
<circle cx="69.5" cy="148.1" r="1.45" fill="#70503c"/>
<circle cx="48.6" cy="165.9" r="1.45" fill="#70503c"/>
<circle cx="64.0" cy="166.8" r="1.45" fill="#70503c"/>
<circle cx="66.9" cy="169.9" r="1.45" fill="#a8765a"/>
<circle cx="70.3" cy="163.0" r="1.45" fill="#a8765a"/>
<circle cx="73.1" cy="161.3" r="1.45" fill="#a8765a"/>
<circle cx="79.4" cy="165.3" r="1.45" fill="#70503c"/>
<circle cx="55.4" cy="185.6" r="1.45" fill="#70503c"/>
<circle cx="56.6" cy="180.2" r="1.45" fill="#3a322e"/>
<circle cx="70.3" cy="181.6" r="1.45" fill="#70503c"/>
<circle cx="68.0" cy="182.7" r="1.45" fill="#a8765a"/>
<circle cx="77.7" cy="179.3" r="1.45" fill="#70503c"/>
<circle cx="78.3" cy="183.1" r="1.45" fill="#3a322e"/>
<circle cx="73.1" cy="187.9" r="1.45" fill="#70503c"/>
<circle cx="78.3" cy="188.4" r="1.45" fill="#a8765a"/>
<circle cx="82.5" cy="167.4" r="1.45" fill="#a8765a"/>
<circle cx="82.9" cy="170.6" r="1.45" fill="#3a322e"/>
<circle cx="86.3" cy="172.6" r="1.45" fill="#70503c"/>
<circle cx="96.2" cy="165.7" r="1.45" fill="#3a322e"/>
<circle cx="86.9" cy="189.9" r="1.45" fill="#a8765a"/>
<circle cx="105.1" cy="178.4" r="1.45" fill="#a8765a"/>
</g>
<line x1="28.30" y1="70.50" x2="257.30" y2="70.50" stroke="#6a6a6a" stroke-width="1.0"/>
<line x1="257.30" y1="70.50" x2="257.30" y2="291.20" stroke="#8a8a8a" stroke-width="1.0"/>
<line x1="28.30" y1="70.00" x2="28.30" y2="291.70" stroke="#555" stroke-width="1.0"/>
<line x1="28.30" y1="291.20" x2="257.30" y2="291.20" stroke="#666" stroke-width="1.0"/>
<line x1="26.10" y1="291.20" x2="28.30" y2="291.20" stroke="#555" stroke-width="0.9"/>
<text x="24.30" y="294.20" font-size="9.6" text-anchor="end" fill="#262626" stroke="#262626" stroke-width="0.18" textLength="5.09" lengthAdjust="spacingAndGlyphs">1</text>
<line x1="26.10" y1="160.14" x2="28.30" y2="160.14" stroke="#555" stroke-width="0.9"/>
<text x="24.30" y="163.14" font-size="9.6" text-anchor="end" fill="#262626" stroke="#262626" stroke-width="0.18" textLength="5.09" lengthAdjust="spacingAndGlyphs">5</text>
<line x1="26.10" y1="103.70" x2="28.30" y2="103.70" stroke="#555" stroke-width="0.9"/>
<text x="24.30" y="106.70" font-size="9.6" text-anchor="end" fill="#262626" stroke="#262626" stroke-width="0.18" textLength="10.18" lengthAdjust="spacingAndGlyphs">10</text>
<line x1="26.10" y1="70.68" x2="28.30" y2="70.68" stroke="#555" stroke-width="0.9"/>
<text x="24.30" y="73.68" font-size="9.6" text-anchor="end" fill="#262626" stroke="#262626" stroke-width="0.18" textLength="10.18" lengthAdjust="spacingAndGlyphs">15</text>
<line x1="27.00" y1="234.76" x2="28.30" y2="234.76" stroke="#777" stroke-width="0.7"/>
<line x1="27.00" y1="201.74" x2="28.30" y2="201.74" stroke="#777" stroke-width="0.7"/>
<line x1="27.00" y1="178.31" x2="28.30" y2="178.31" stroke="#777" stroke-width="0.7"/>
<line x1="27.00" y1="145.30" x2="28.30" y2="145.30" stroke="#777" stroke-width="0.7"/>
<line x1="27.00" y1="132.74" x2="28.30" y2="132.74" stroke="#777" stroke-width="0.7"/>
<line x1="27.00" y1="121.87" x2="28.30" y2="121.87" stroke="#777" stroke-width="0.7"/>
<line x1="27.00" y1="112.28" x2="28.30" y2="112.28" stroke="#777" stroke-width="0.7"/>
<line x1="28.30" y1="291.20" x2="28.30" y2="293.40" stroke="#555" stroke-width="0.9"/>
<text x="28.30" y="301.40" font-size="9.6" text-anchor="middle" fill="#262626" stroke="#262626" stroke-width="0.18" textLength="12.72" lengthAdjust="spacingAndGlyphs">0.0</text>
<line x1="69.58" y1="291.20" x2="69.58" y2="293.40" stroke="#555" stroke-width="0.9"/>
<text x="69.58" y="301.40" font-size="9.6" text-anchor="middle" fill="#262626" stroke="#262626" stroke-width="0.18" textLength="12.72" lengthAdjust="spacingAndGlyphs">0.2</text>
<line x1="110.86" y1="291.20" x2="110.86" y2="293.40" stroke="#555" stroke-width="0.9"/>
<text x="110.86" y="301.40" font-size="9.6" text-anchor="middle" fill="#262626" stroke="#262626" stroke-width="0.18" textLength="12.72" lengthAdjust="spacingAndGlyphs">0.4</text>
<line x1="152.14" y1="291.20" x2="152.14" y2="293.40" stroke="#555" stroke-width="0.9"/>
<text x="152.14" y="301.40" font-size="9.6" text-anchor="middle" fill="#262626" stroke="#262626" stroke-width="0.18" textLength="12.72" lengthAdjust="spacingAndGlyphs">0.6</text>
<line x1="193.42" y1="291.20" x2="193.42" y2="293.40" stroke="#555" stroke-width="0.9"/>
<text x="193.42" y="301.40" font-size="9.6" text-anchor="middle" fill="#262626" stroke="#262626" stroke-width="0.18" textLength="12.72" lengthAdjust="spacingAndGlyphs">0.8</text>
<line x1="234.70" y1="291.20" x2="234.70" y2="293.40" stroke="#555" stroke-width="0.9"/>
<text x="234.70" y="301.40" font-size="9.6" text-anchor="middle" fill="#262626" stroke="#262626" stroke-width="0.18" textLength="12.72" lengthAdjust="spacingAndGlyphs">1.0</text>
<text x="142.70" y="314.40" font-size="11.98" text-anchor="middle" fill="#262626" stroke="#262626" stroke-width="0.18" textLength="19.67" lengthAdjust="spacingAndGlyphs">CMI</text>
<text x="15.80" y="53.00" font-size="14.49" text-anchor="start" fill="#262626" stroke="#262626" stroke-width="0" textLength="19.61" lengthAdjust="spacingAndGlyphs">(a)</text>
<g transform="translate(8.7 183) rotate(-90) scale(0.95 1)" fill="#262626" text-anchor="middle"><text x="0" y="0" font-size="12.6" stroke="#262626" stroke-width="0.15">Θ</text></g>
<g transform="translate(8.7 183) rotate(-90) scale(0.8 1)" fill="#262626" text-anchor="middle"><text x="9" y="2.1" font-size="7.7" stroke="#262626" stroke-width="0.12">Σ</text></g>
<linearGradient id="cb" x1="0" y1="0" x2="0" y2="1"><stop offset="0.000" stop-color="#f0cc94"/><stop offset="0.080" stop-color="#eec48e"/><stop offset="0.243" stop-color="#ebb482"/><stop offset="0.410" stop-color="#e8a878"/><stop offset="0.570" stop-color="#c89070"/><stop offset="0.740" stop-color="#946c56"/><stop offset="0.900" stop-color="#584a40"/><stop offset="1.000" stop-color="#363432"/></linearGradient>
<rect x="271.30" y="70.10" width="11.40" height="220.70" fill="url(#cb)" stroke="#555" stroke-width="0.8"/>
<line x1="282.70" y1="88.10" x2="284.90" y2="88.10" stroke="#555" stroke-width="0.9"/>
<text x="286.90" y="91.10" font-size="9.6" text-anchor="start" fill="#262626" stroke="#262626" stroke-width="0.18" textLength="12.72" lengthAdjust="spacingAndGlyphs">0.8</text>
<line x1="282.70" y1="124.38" x2="284.90" y2="124.38" stroke="#555" stroke-width="0.9"/>
<text x="286.90" y="127.38" font-size="9.6" text-anchor="start" fill="#262626" stroke="#262626" stroke-width="0.18" textLength="12.72" lengthAdjust="spacingAndGlyphs">0.7</text>
<line x1="282.70" y1="160.66" x2="284.90" y2="160.66" stroke="#555" stroke-width="0.9"/>
<text x="286.90" y="163.66" font-size="9.6" text-anchor="start" fill="#262626" stroke="#262626" stroke-width="0.18" textLength="12.72" lengthAdjust="spacingAndGlyphs">0.6</text>
<line x1="282.70" y1="196.94" x2="284.90" y2="196.94" stroke="#555" stroke-width="0.9"/>
<text x="286.90" y="199.94" font-size="9.6" text-anchor="start" fill="#262626" stroke="#262626" stroke-width="0.18" textLength="12.72" lengthAdjust="spacingAndGlyphs">0.5</text>
<line x1="282.70" y1="233.22" x2="284.90" y2="233.22" stroke="#555" stroke-width="0.9"/>
<text x="286.90" y="236.22" font-size="9.6" text-anchor="start" fill="#262626" stroke="#262626" stroke-width="0.18" textLength="12.72" lengthAdjust="spacingAndGlyphs">0.4</text>
<line x1="282.70" y1="269.50" x2="284.90" y2="269.50" stroke="#555" stroke-width="0.9"/>
<text x="286.90" y="272.50" font-size="9.6" text-anchor="start" fill="#262626" stroke="#262626" stroke-width="0.18" textLength="12.72" lengthAdjust="spacingAndGlyphs">0.3</text>
<text x="277.20" y="302.50" font-size="12.69" text-anchor="middle" fill="#262626" stroke="#262626" stroke-width="0.18" textLength="6.60" lengthAdjust="spacingAndGlyphs">S</text>
<rect x="368.00" y="25.30" width="6.90" height="4.20" fill="#5b9ac6" stroke="#1f2f3f" stroke-width="0.6"/>
<rect x="374.90" y="26.50" width="6.80" height="3.00" fill="#5b9ac6" stroke="#1f2f3f" stroke-width="0.6"/>
<rect x="381.70" y="22.30" width="6.90" height="7.20" fill="#5b9ac6" stroke="#1f2f3f" stroke-width="0.6"/>
<rect x="388.60" y="17.80" width="7.00" height="11.70" fill="#5b9ac6" stroke="#1f2f3f" stroke-width="0.6"/>
<rect x="395.60" y="20.20" width="6.40" height="9.30" fill="#5b9ac6" stroke="#1f2f3f" stroke-width="0.6"/>
<rect x="402.00" y="13.40" width="7.40" height="16.10" fill="#5b9ac6" stroke="#1f2f3f" stroke-width="0.6"/>
<rect x="409.40" y="21.90" width="7.20" height="7.60" fill="#5b9ac6" stroke="#1f2f3f" stroke-width="0.6"/>
<rect x="416.60" y="26.00" width="6.90" height="3.50" fill="#5b9ac6" stroke="#1f2f3f" stroke-width="0.6"/>
<line x1="357.40" y1="29.50" x2="435.10" y2="29.50" stroke="#b0b0b0" stroke-width="0.9"/>
<line x1="359.00" y1="29.50" x2="359.00" y2="30.80" stroke="#777" stroke-width="0.6"/>
<line x1="372.10" y1="29.50" x2="372.10" y2="30.80" stroke="#777" stroke-width="0.6"/>
<line x1="385.20" y1="29.50" x2="385.20" y2="30.80" stroke="#777" stroke-width="0.6"/>
<line x1="398.30" y1="29.50" x2="398.30" y2="30.80" stroke="#777" stroke-width="0.6"/>
<line x1="411.40" y1="29.50" x2="411.40" y2="30.80" stroke="#777" stroke-width="0.6"/>
<line x1="424.50" y1="29.50" x2="424.50" y2="30.80" stroke="#777" stroke-width="0.6"/>
<rect x="437.40" y="47.70" width="1.40" height="10.30" fill="#5b9ac6" stroke="#1f2f3f" stroke-width="0.6"/>
<rect x="437.40" y="58.00" width="2.30" height="11.10" fill="#5b9ac6" stroke="#1f2f3f" stroke-width="0.6"/>
<rect x="437.40" y="69.10" width="8.80" height="10.40" fill="#5b9ac6" stroke="#1f2f3f" stroke-width="0.6"/>
<rect x="437.40" y="79.50" width="7.20" height="10.30" fill="#5b9ac6" stroke="#1f2f3f" stroke-width="0.6"/>
<rect x="437.40" y="89.80" width="8.20" height="10.60" fill="#5b9ac6" stroke="#1f2f3f" stroke-width="0.6"/>
<rect x="437.40" y="100.40" width="10.40" height="10.70" fill="#5b9ac6" stroke="#1f2f3f" stroke-width="0.6"/>
<rect x="437.40" y="111.10" width="2.20" height="10.40" fill="#5b9ac6" stroke="#1f2f3f" stroke-width="0.6"/>
<rect x="437.40" y="121.50" width="1.00" height="10.80" fill="#5b9ac6" stroke="#1f2f3f" stroke-width="0.6"/>
<line x1="437.40" y1="32.50" x2="437.40" y2="150.80" stroke="#b0b0b0" stroke-width="0.9"/>
<line x1="436.10" y1="147.40" x2="437.40" y2="147.40" stroke="#777" stroke-width="0.6"/>
<line x1="436.10" y1="127.62" x2="437.40" y2="127.62" stroke="#777" stroke-width="0.6"/>
<line x1="436.10" y1="107.84" x2="437.40" y2="107.84" stroke="#777" stroke-width="0.6"/>
<line x1="436.10" y1="88.06" x2="437.40" y2="88.06" stroke="#777" stroke-width="0.6"/>
<line x1="436.10" y1="68.28" x2="437.40" y2="68.28" stroke="#777" stroke-width="0.6"/>
<line x1="436.10" y1="48.50" x2="437.40" y2="48.50" stroke="#777" stroke-width="0.6"/>
<line x1="357.40" y1="32.50" x2="357.40" y2="151.30" stroke="#bcbcbc" stroke-width="1.1"/>
<line x1="356.90" y1="150.80" x2="435.10" y2="150.80" stroke="#bcbcbc" stroke-width="1.1"/>
<line x1="355.80" y1="147.40" x2="357.40" y2="147.40" stroke="#666" stroke-width="0.7"/>
<text x="354.60" y="149.80" font-size="7.06" text-anchor="end" fill="#262626" stroke="#262626" stroke-width="0.16" textLength="3.77" lengthAdjust="spacingAndGlyphs">2</text>
<line x1="355.80" y1="127.62" x2="357.40" y2="127.62" stroke="#666" stroke-width="0.7"/>
<text x="354.60" y="130.02" font-size="7.06" text-anchor="end" fill="#262626" stroke="#262626" stroke-width="0.16" textLength="3.77" lengthAdjust="spacingAndGlyphs">4</text>
<line x1="355.80" y1="107.84" x2="357.40" y2="107.84" stroke="#666" stroke-width="0.7"/>
<text x="354.60" y="110.24" font-size="7.06" text-anchor="end" fill="#262626" stroke="#262626" stroke-width="0.16" textLength="3.77" lengthAdjust="spacingAndGlyphs">6</text>
<line x1="355.80" y1="88.06" x2="357.40" y2="88.06" stroke="#666" stroke-width="0.7"/>
<text x="354.60" y="90.46" font-size="7.06" text-anchor="end" fill="#262626" stroke="#262626" stroke-width="0.16" textLength="3.77" lengthAdjust="spacingAndGlyphs">8</text>
<line x1="355.80" y1="68.28" x2="357.40" y2="68.28" stroke="#666" stroke-width="0.7"/>
<text x="354.60" y="70.68" font-size="7.06" text-anchor="end" fill="#262626" stroke="#262626" stroke-width="0.16" textLength="7.54" lengthAdjust="spacingAndGlyphs">10</text>
<line x1="355.80" y1="48.50" x2="357.40" y2="48.50" stroke="#666" stroke-width="0.7"/>
<text x="354.60" y="50.90" font-size="7.06" text-anchor="end" fill="#262626" stroke="#262626" stroke-width="0.16" textLength="7.54" lengthAdjust="spacingAndGlyphs">12</text>
<line x1="359.00" y1="150.80" x2="359.00" y2="152.40" stroke="#666" stroke-width="0.7"/>
<text x="359.00" y="158.40" font-size="7.06" text-anchor="middle" fill="#262626" stroke="#262626" stroke-width="0.16" textLength="3.77" lengthAdjust="spacingAndGlyphs">2</text>
<line x1="372.10" y1="150.80" x2="372.10" y2="152.40" stroke="#666" stroke-width="0.7"/>
<text x="372.10" y="158.40" font-size="7.06" text-anchor="middle" fill="#262626" stroke="#262626" stroke-width="0.16" textLength="3.77" lengthAdjust="spacingAndGlyphs">4</text>
<line x1="385.20" y1="150.80" x2="385.20" y2="152.40" stroke="#666" stroke-width="0.7"/>
<text x="385.20" y="158.40" font-size="7.06" text-anchor="middle" fill="#262626" stroke="#262626" stroke-width="0.16" textLength="3.77" lengthAdjust="spacingAndGlyphs">6</text>
<line x1="398.30" y1="150.80" x2="398.30" y2="152.40" stroke="#666" stroke-width="0.7"/>
<text x="398.30" y="158.40" font-size="7.06" text-anchor="middle" fill="#262626" stroke="#262626" stroke-width="0.16" textLength="3.77" lengthAdjust="spacingAndGlyphs">8</text>
<line x1="411.40" y1="150.80" x2="411.40" y2="152.40" stroke="#666" stroke-width="0.7"/>
<text x="411.40" y="158.40" font-size="7.06" text-anchor="middle" fill="#262626" stroke="#262626" stroke-width="0.16" textLength="7.54" lengthAdjust="spacingAndGlyphs">10</text>
<line x1="424.50" y1="150.80" x2="424.50" y2="152.40" stroke="#666" stroke-width="0.7"/>
<text x="424.50" y="158.40" font-size="7.06" text-anchor="middle" fill="#262626" stroke="#262626" stroke-width="0.16" textLength="7.54" lengthAdjust="spacingAndGlyphs">12</text>
<clipPath id="b1"><rect x="357.4" y="32.5" width="77.70000000000005" height="118.30000000000001"/></clipPath>
<g clip-path="url(#b1)">
<circle cx="384.1" cy="79.1" r="1.2" fill="#3a7fbc"/>
<circle cx="391.1" cy="80.9" r="1.2" fill="#3a7fbc"/>
<circle cx="396.2" cy="73.5" r="1.2" fill="#3a7fbc"/>
<circle cx="395.9" cy="77.1" r="1.2" fill="#3a7fbc"/>
<circle cx="391.3" cy="84.9" r="1.2" fill="#3a7fbc"/>
<circle cx="393.0" cy="85.7" r="1.2" fill="#3a7fbc"/>
<circle cx="394.1" cy="86.9" r="1.2" fill="#3a7fbc"/>
<circle cx="396.4" cy="87.2" r="1.2" fill="#3a7fbc"/>
<circle cx="388.1" cy="87.8" r="1.2" fill="#3a7fbc"/>
<circle cx="389.6" cy="90.6" r="1.2" fill="#3a7fbc"/>
<circle cx="393.8" cy="90.3" r="1.2" fill="#3a7fbc"/>
<circle cx="396.4" cy="92.6" r="1.2" fill="#3a7fbc"/>
<circle cx="372.4" cy="94.1" r="1.2" fill="#3a7fbc"/>
<circle cx="370.5" cy="97.1" r="1.2" fill="#3a7fbc"/>
<circle cx="379.6" cy="98.6" r="1.2" fill="#3a7fbc"/>
<circle cx="390.7" cy="97.5" r="1.2" fill="#3a7fbc"/>
<circle cx="392.4" cy="96.3" r="1.2" fill="#3a7fbc"/>
<circle cx="422.9" cy="48.7" r="1.2" fill="#3a7fbc"/>
<circle cx="417.3" cy="55.8" r="1.2" fill="#3a7fbc"/>
<circle cx="421.1" cy="55.6" r="1.2" fill="#3a7fbc"/>
<circle cx="413.0" cy="61.8" r="1.2" fill="#3a7fbc"/>
<circle cx="415.9" cy="63.5" r="1.2" fill="#3a7fbc"/>
<circle cx="417.3" cy="62.7" r="1.2" fill="#3a7fbc"/>
<circle cx="401.5" cy="68.1" r="1.2" fill="#3a7fbc"/>
<circle cx="403.6" cy="69.9" r="1.2" fill="#3a7fbc"/>
<circle cx="407.3" cy="68.7" r="1.2" fill="#3a7fbc"/>
<circle cx="398.8" cy="71.1" r="1.2" fill="#3a7fbc"/>
<circle cx="404.4" cy="73.3" r="1.2" fill="#3a7fbc"/>
<circle cx="408.7" cy="74.1" r="1.2" fill="#3a7fbc"/>
<circle cx="410.4" cy="74.1" r="1.2" fill="#3a7fbc"/>
<circle cx="411.8" cy="72.1" r="1.2" fill="#3a7fbc"/>
<circle cx="412.5" cy="74.5" r="1.2" fill="#3a7fbc"/>
<circle cx="399.3" cy="77.2" r="1.2" fill="#3a7fbc"/>
<circle cx="401.0" cy="77.9" r="1.2" fill="#3a7fbc"/>
<circle cx="402.7" cy="77.2" r="1.2" fill="#3a7fbc"/>
<circle cx="404.4" cy="76.7" r="1.2" fill="#3a7fbc"/>
<circle cx="403.2" cy="80.7" r="1.2" fill="#3a7fbc"/>
<circle cx="406.1" cy="80.7" r="1.2" fill="#3a7fbc"/>
<circle cx="412.1" cy="81.5" r="1.2" fill="#3a7fbc"/>
<circle cx="407.9" cy="83.6" r="1.2" fill="#3a7fbc"/>
<circle cx="409.1" cy="85.8" r="1.2" fill="#3a7fbc"/>
<circle cx="400.1" cy="87.5" r="1.2" fill="#3a7fbc"/>
<circle cx="403.6" cy="88.2" r="1.2" fill="#3a7fbc"/>
<circle cx="402.7" cy="90.9" r="1.2" fill="#3a7fbc"/>
<circle cx="407.0" cy="89.2" r="1.2" fill="#3a7fbc"/>
<circle cx="400.1" cy="95.7" r="1.2" fill="#3a7fbc"/>
<circle cx="401.5" cy="94.0" r="1.2" fill="#3a7fbc"/>
<circle cx="410.8" cy="94.0" r="1.2" fill="#3a7fbc"/>
<circle cx="398.1" cy="100.0" r="1.2" fill="#3a7fbc"/>
<circle cx="404.4" cy="99.1" r="1.2" fill="#3a7fbc"/>
<circle cx="407.0" cy="101.7" r="1.2" fill="#3a7fbc"/>
<circle cx="407.0" cy="103.8" r="1.2" fill="#3a7fbc"/>
<circle cx="411.3" cy="102.6" r="1.2" fill="#3a7fbc"/>
<circle cx="402.7" cy="103.8" r="1.2" fill="#3a7fbc"/>
<circle cx="401.9" cy="105.7" r="1.2" fill="#3a7fbc"/>
<circle cx="395.9" cy="107.7" r="1.2" fill="#3a7fbc"/>
<circle cx="403.9" cy="112.0" r="1.2" fill="#3a7fbc"/>
<circle cx="403.1" cy="115.8" r="1.2" fill="#3a7fbc"/>
<circle cx="416.4" cy="116.8" r="1.2" fill="#3a7fbc"/>
<circle cx="375.9" cy="101.1" r="1.2" fill="#3a7fbc"/>
<circle cx="382.7" cy="101.1" r="1.2" fill="#3a7fbc"/>
<circle cx="384.1" cy="102.0" r="1.2" fill="#3a7fbc"/>
<circle cx="381.9" cy="103.2" r="1.2" fill="#3a7fbc"/>
<circle cx="390.4" cy="101.7" r="1.2" fill="#3a7fbc"/>
<circle cx="393.0" cy="101.1" r="1.2" fill="#3a7fbc"/>
<circle cx="392.1" cy="102.9" r="1.2" fill="#3a7fbc"/>
<circle cx="368.1" cy="104.6" r="1.2" fill="#3a7fbc"/>
<circle cx="372.1" cy="104.9" r="1.2" fill="#3a7fbc"/>
<circle cx="384.4" cy="105.4" r="1.2" fill="#3a7fbc"/>
<circle cx="387.9" cy="106.6" r="1.2" fill="#3a7fbc"/>
<circle cx="380.7" cy="108.0" r="1.2" fill="#3a7fbc"/>
<circle cx="384.8" cy="107.1" r="1.2" fill="#3a7fbc"/>
<circle cx="382.7" cy="110.6" r="1.2" fill="#3a7fbc"/>
<circle cx="380.1" cy="112.3" r="1.2" fill="#3a7fbc"/>
<circle cx="380.1" cy="115.7" r="1.2" fill="#3a7fbc"/>
<circle cx="390.3" cy="122.9" r="1.2" fill="#3a7fbc"/>
<circle cx="371.6" cy="131.0" r="1.2" fill="#3a7fbc"/>
<circle cx="373.1" cy="132.1" r="1.2" fill="#3a7fbc"/>
</g>
<rect x="383.10" y="36.10" width="48.80" height="11.00" fill="rgba(255,255,255,0.8)" stroke="#dcdcdc" stroke-width="0.7" rx="1.5"/>
<circle cx="391.6" cy="41.7" r="1.2" fill="#3a7fbc"/>
<text x="402.40" y="43.00" font-size="7.2" text-anchor="start" fill="#262626" stroke="#262626" stroke-width="0.15" textLength="26.75" lengthAdjust="spacingAndGlyphs">Z &lt; 2.06</text>
<text x="396.30" y="167.60" font-size="9.64" text-anchor="middle" fill="#262626" stroke="#262626" stroke-width="0.18" textLength="5.00" lengthAdjust="spacingAndGlyphs">X</text>
<text x="342.70" y="92.20" font-size="8.76" text-anchor="middle" fill="#262626" stroke="#262626" stroke-width="0.18" textLength="4.46" lengthAdjust="spacingAndGlyphs" transform="rotate(-90 342.70 92.20)">Y</text>
<rect x="480.90" y="23.00" width="9.70" height="6.30" fill="#5b9ac6" stroke="#1f2f3f" stroke-width="0.6"/>
<rect x="490.60" y="20.40" width="10.00" height="8.90" fill="#5b9ac6" stroke="#1f2f3f" stroke-width="0.6"/>
<rect x="500.60" y="13.80" width="9.90" height="15.50" fill="#5b9ac6" stroke="#1f2f3f" stroke-width="0.6"/>
<rect x="510.50" y="13.80" width="9.80" height="15.50" fill="#5b9ac6" stroke="#1f2f3f" stroke-width="0.6"/>
<rect x="520.30" y="18.10" width="10.10" height="11.20" fill="#5b9ac6" stroke="#1f2f3f" stroke-width="0.6"/>
<rect x="530.40" y="20.40" width="10.20" height="8.90" fill="#5b9ac6" stroke="#1f2f3f" stroke-width="0.6"/>
<line x1="473.60" y1="29.30" x2="551.80" y2="29.30" stroke="#b0b0b0" stroke-width="0.9"/>
<line x1="475.60" y1="29.30" x2="475.60" y2="30.60" stroke="#777" stroke-width="0.6"/>
<line x1="488.74" y1="29.30" x2="488.74" y2="30.60" stroke="#777" stroke-width="0.6"/>
<line x1="501.88" y1="29.30" x2="501.88" y2="30.60" stroke="#777" stroke-width="0.6"/>
<line x1="515.02" y1="29.30" x2="515.02" y2="30.60" stroke="#777" stroke-width="0.6"/>
<line x1="528.16" y1="29.30" x2="528.16" y2="30.60" stroke="#777" stroke-width="0.6"/>
<line x1="541.30" y1="29.30" x2="541.30" y2="30.60" stroke="#777" stroke-width="0.6"/>
<rect x="553.60" y="45.20" width="1.90" height="13.40" fill="#5b9ac6" stroke="#1f2f3f" stroke-width="0.6"/>
<rect x="553.60" y="58.60" width="8.10" height="13.00" fill="#5b9ac6" stroke="#1f2f3f" stroke-width="0.6"/>
<rect x="553.60" y="71.60" width="5.40" height="12.70" fill="#5b9ac6" stroke="#1f2f3f" stroke-width="0.6"/>
<rect x="553.60" y="84.30" width="10.80" height="13.10" fill="#5b9ac6" stroke="#1f2f3f" stroke-width="0.6"/>
<rect x="553.60" y="97.40" width="6.70" height="13.00" fill="#5b9ac6" stroke="#1f2f3f" stroke-width="0.6"/>
<rect x="553.60" y="110.40" width="8.10" height="12.70" fill="#5b9ac6" stroke="#1f2f3f" stroke-width="0.6"/>
<line x1="553.60" y1="32.60" x2="553.60" y2="150.70" stroke="#b0b0b0" stroke-width="0.9"/>
<line x1="552.30" y1="147.10" x2="553.60" y2="147.10" stroke="#777" stroke-width="0.6"/>
<line x1="552.30" y1="127.46" x2="553.60" y2="127.46" stroke="#777" stroke-width="0.6"/>
<line x1="552.30" y1="107.82" x2="553.60" y2="107.82" stroke="#777" stroke-width="0.6"/>
<line x1="552.30" y1="88.18" x2="553.60" y2="88.18" stroke="#777" stroke-width="0.6"/>
<line x1="552.30" y1="68.54" x2="553.60" y2="68.54" stroke="#777" stroke-width="0.6"/>
<line x1="552.30" y1="48.90" x2="553.60" y2="48.90" stroke="#777" stroke-width="0.6"/>
<line x1="473.60" y1="32.60" x2="473.60" y2="151.20" stroke="#bcbcbc" stroke-width="1.1"/>
<line x1="473.10" y1="150.70" x2="551.80" y2="150.70" stroke="#bcbcbc" stroke-width="1.1"/>
<line x1="472.00" y1="147.10" x2="473.60" y2="147.10" stroke="#666" stroke-width="0.7"/>
<text x="470.80" y="149.50" font-size="7.06" text-anchor="end" fill="#262626" stroke="#262626" stroke-width="0.16" textLength="3.77" lengthAdjust="spacingAndGlyphs">2</text>
<line x1="472.00" y1="127.46" x2="473.60" y2="127.46" stroke="#666" stroke-width="0.7"/>
<text x="470.80" y="129.86" font-size="7.06" text-anchor="end" fill="#262626" stroke="#262626" stroke-width="0.16" textLength="3.77" lengthAdjust="spacingAndGlyphs">4</text>
<line x1="472.00" y1="107.82" x2="473.60" y2="107.82" stroke="#666" stroke-width="0.7"/>
<text x="470.80" y="110.22" font-size="7.06" text-anchor="end" fill="#262626" stroke="#262626" stroke-width="0.16" textLength="3.77" lengthAdjust="spacingAndGlyphs">6</text>
<line x1="472.00" y1="88.18" x2="473.60" y2="88.18" stroke="#666" stroke-width="0.7"/>
<text x="470.80" y="90.58" font-size="7.06" text-anchor="end" fill="#262626" stroke="#262626" stroke-width="0.16" textLength="3.77" lengthAdjust="spacingAndGlyphs">8</text>
<line x1="472.00" y1="68.54" x2="473.60" y2="68.54" stroke="#666" stroke-width="0.7"/>
<text x="470.80" y="70.94" font-size="7.06" text-anchor="end" fill="#262626" stroke="#262626" stroke-width="0.16" textLength="7.54" lengthAdjust="spacingAndGlyphs">10</text>
<line x1="472.00" y1="48.90" x2="473.60" y2="48.90" stroke="#666" stroke-width="0.7"/>
<text x="470.80" y="51.30" font-size="7.06" text-anchor="end" fill="#262626" stroke="#262626" stroke-width="0.16" textLength="7.54" lengthAdjust="spacingAndGlyphs">12</text>
<line x1="475.60" y1="150.70" x2="475.60" y2="152.30" stroke="#666" stroke-width="0.7"/>
<text x="475.60" y="158.30" font-size="7.06" text-anchor="middle" fill="#262626" stroke="#262626" stroke-width="0.16" textLength="3.77" lengthAdjust="spacingAndGlyphs">2</text>
<line x1="488.74" y1="150.70" x2="488.74" y2="152.30" stroke="#666" stroke-width="0.7"/>
<text x="488.74" y="158.30" font-size="7.06" text-anchor="middle" fill="#262626" stroke="#262626" stroke-width="0.16" textLength="3.77" lengthAdjust="spacingAndGlyphs">4</text>
<line x1="501.88" y1="150.70" x2="501.88" y2="152.30" stroke="#666" stroke-width="0.7"/>
<text x="501.88" y="158.30" font-size="7.06" text-anchor="middle" fill="#262626" stroke="#262626" stroke-width="0.16" textLength="3.77" lengthAdjust="spacingAndGlyphs">6</text>
<line x1="515.02" y1="150.70" x2="515.02" y2="152.30" stroke="#666" stroke-width="0.7"/>
<text x="515.02" y="158.30" font-size="7.06" text-anchor="middle" fill="#262626" stroke="#262626" stroke-width="0.16" textLength="3.77" lengthAdjust="spacingAndGlyphs">8</text>
<line x1="528.16" y1="150.70" x2="528.16" y2="152.30" stroke="#666" stroke-width="0.7"/>
<text x="528.16" y="158.30" font-size="7.06" text-anchor="middle" fill="#262626" stroke="#262626" stroke-width="0.16" textLength="7.54" lengthAdjust="spacingAndGlyphs">10</text>
<line x1="541.30" y1="150.70" x2="541.30" y2="152.30" stroke="#666" stroke-width="0.7"/>
<text x="541.30" y="158.30" font-size="7.06" text-anchor="middle" fill="#262626" stroke="#262626" stroke-width="0.16" textLength="7.54" lengthAdjust="spacingAndGlyphs">12</text>
<clipPath id="b2"><rect x="473.6" y="32.6" width="78.19999999999993" height="118.1"/></clipPath>
<g clip-path="url(#b2)">
<circle cx="540.3" cy="45.3" r="1.2" fill="#3a7fbc"/>
<circle cx="532.3" cy="60.8" r="1.2" fill="#3a7fbc"/>
<circle cx="530.9" cy="63.5" r="1.2" fill="#3a7fbc"/>
<circle cx="529.4" cy="64.2" r="1.2" fill="#3a7fbc"/>
<circle cx="534.0" cy="65.1" r="1.2" fill="#3a7fbc"/>
<circle cx="522.9" cy="64.4" r="1.2" fill="#3a7fbc"/>
<circle cx="523.4" cy="69.9" r="1.2" fill="#3a7fbc"/>
<circle cx="523.7" cy="77.2" r="1.2" fill="#3a7fbc"/>
<circle cx="521.1" cy="79.0" r="1.2" fill="#3a7fbc"/>
<circle cx="517.4" cy="80.7" r="1.2" fill="#3a7fbc"/>
<circle cx="516.0" cy="88.2" r="1.2" fill="#3a7fbc"/>
<circle cx="514.3" cy="88.7" r="1.2" fill="#3a7fbc"/>
<circle cx="516.5" cy="89.9" r="1.2" fill="#3a7fbc"/>
<circle cx="514.3" cy="91.0" r="1.2" fill="#3a7fbc"/>
<circle cx="510.9" cy="92.1" r="1.2" fill="#3a7fbc"/>
<circle cx="503.5" cy="89.8" r="1.2" fill="#3a7fbc"/>
<circle cx="511.1" cy="95.8" r="1.2" fill="#3a7fbc"/>
<circle cx="505.6" cy="100.9" r="1.2" fill="#3a7fbc"/>
<circle cx="506.9" cy="102.3" r="1.2" fill="#3a7fbc"/>
<circle cx="503.3" cy="104.0" r="1.2" fill="#3a7fbc"/>
<circle cx="497.3" cy="104.5" r="1.2" fill="#3a7fbc"/>
<circle cx="497.3" cy="110.9" r="1.2" fill="#3a7fbc"/>
<circle cx="515.5" cy="110.0" r="1.2" fill="#3a7fbc"/>
<circle cx="480.7" cy="113.8" r="1.2" fill="#3a7fbc"/>
<circle cx="491.0" cy="114.8" r="1.2" fill="#3a7fbc"/>
<circle cx="485.9" cy="122.9" r="1.2" fill="#3a7fbc"/>
<circle cx="488.8" cy="121.1" r="1.2" fill="#3a7fbc"/>
<circle cx="491.0" cy="122.9" r="1.2" fill="#3a7fbc"/>
<circle cx="506.1" cy="79.1" r="1.2" fill="#3a7fbc"/>
</g>
<rect x="476.20" y="137.50" width="66.40" height="9.90" fill="rgba(255,255,255,0.8)" stroke="#dcdcdc" stroke-width="0.7" rx="1.5"/>
<circle cx="485.0" cy="142.6" r="1.2" fill="#3a7fbc"/>
<text x="496.20" y="144.00" font-size="7.2" text-anchor="start" fill="#262626" stroke="#262626" stroke-width="0.15" textLength="43.50" lengthAdjust="spacingAndGlyphs">2.06≤ Z ≤ 2.9</text>
<text x="512.90" y="167.40" font-size="9.64" text-anchor="middle" fill="#262626" stroke="#262626" stroke-width="0.18" textLength="5.00" lengthAdjust="spacingAndGlyphs">X</text>
<text x="459.00" y="91.80" font-size="8.76" text-anchor="middle" fill="#262626" stroke="#262626" stroke-width="0.18" textLength="4.46" lengthAdjust="spacingAndGlyphs" transform="rotate(-90 459.00 91.80)">Y</text>
<rect x="600.70" y="19.60" width="10.90" height="9.80" fill="#5b9ac6" stroke="#1f2f3f" stroke-width="0.6"/>
<rect x="611.60" y="21.70" width="10.30" height="7.70" fill="#5b9ac6" stroke="#1f2f3f" stroke-width="0.6"/>
<rect x="621.90" y="21.70" width="10.10" height="7.70" fill="#5b9ac6" stroke="#1f2f3f" stroke-width="0.6"/>
<rect x="632.00" y="19.60" width="10.80" height="9.80" fill="#5b9ac6" stroke="#1f2f3f" stroke-width="0.6"/>
<rect x="642.80" y="14.00" width="10.90" height="15.40" fill="#5b9ac6" stroke="#1f2f3f" stroke-width="0.6"/>
<rect x="653.70" y="21.40" width="10.70" height="8.00" fill="#5b9ac6" stroke="#1f2f3f" stroke-width="0.6"/>
<line x1="590.20" y1="29.40" x2="669.00" y2="29.40" stroke="#b0b0b0" stroke-width="0.9"/>
<line x1="592.49" y1="29.40" x2="592.49" y2="30.70" stroke="#777" stroke-width="0.6"/>
<line x1="605.55" y1="29.40" x2="605.55" y2="30.70" stroke="#777" stroke-width="0.6"/>
<line x1="618.61" y1="29.40" x2="618.61" y2="30.70" stroke="#777" stroke-width="0.6"/>
<line x1="631.67" y1="29.40" x2="631.67" y2="30.70" stroke="#777" stroke-width="0.6"/>
<line x1="644.73" y1="29.40" x2="644.73" y2="30.70" stroke="#777" stroke-width="0.6"/>
<line x1="657.79" y1="29.40" x2="657.79" y2="30.70" stroke="#777" stroke-width="0.6"/>
<rect x="670.50" y="32.90" width="2.20" height="19.50" fill="#5b9ac6" stroke="#1f2f3f" stroke-width="0.6"/>
<rect x="670.50" y="52.40" width="9.90" height="19.90" fill="#5b9ac6" stroke="#1f2f3f" stroke-width="0.6"/>
<rect x="670.50" y="72.30" width="9.10" height="19.50" fill="#5b9ac6" stroke="#1f2f3f" stroke-width="0.6"/>
<rect x="670.50" y="91.80" width="9.20" height="19.70" fill="#5b9ac6" stroke="#1f2f3f" stroke-width="0.6"/>
<rect x="670.50" y="111.50" width="2.10" height="19.60" fill="#5b9ac6" stroke="#1f2f3f" stroke-width="0.6"/>
<rect x="670.50" y="131.10" width="1.10" height="19.50" fill="#5b9ac6" stroke="#1f2f3f" stroke-width="0.6"/>
<line x1="670.50" y1="32.90" x2="670.50" y2="150.40" stroke="#b0b0b0" stroke-width="0.9"/>
<line x1="669.20" y1="147.80" x2="670.50" y2="147.80" stroke="#777" stroke-width="0.6"/>
<line x1="669.20" y1="127.88" x2="670.50" y2="127.88" stroke="#777" stroke-width="0.6"/>
<line x1="669.20" y1="107.96" x2="670.50" y2="107.96" stroke="#777" stroke-width="0.6"/>
<line x1="669.20" y1="88.04" x2="670.50" y2="88.04" stroke="#777" stroke-width="0.6"/>
<line x1="669.20" y1="68.12" x2="670.50" y2="68.12" stroke="#777" stroke-width="0.6"/>
<line x1="669.20" y1="48.20" x2="670.50" y2="48.20" stroke="#777" stroke-width="0.6"/>
<line x1="590.20" y1="32.90" x2="590.20" y2="150.90" stroke="#bcbcbc" stroke-width="1.1"/>
<line x1="589.70" y1="150.40" x2="669.00" y2="150.40" stroke="#bcbcbc" stroke-width="1.1"/>
<line x1="588.60" y1="147.80" x2="590.20" y2="147.80" stroke="#666" stroke-width="0.7"/>
<text x="587.40" y="150.20" font-size="7.06" text-anchor="end" fill="#262626" stroke="#262626" stroke-width="0.16" textLength="3.77" lengthAdjust="spacingAndGlyphs">2</text>
<line x1="588.60" y1="127.88" x2="590.20" y2="127.88" stroke="#666" stroke-width="0.7"/>
<text x="587.40" y="130.28" font-size="7.06" text-anchor="end" fill="#262626" stroke="#262626" stroke-width="0.16" textLength="3.77" lengthAdjust="spacingAndGlyphs">4</text>
<line x1="588.60" y1="107.96" x2="590.20" y2="107.96" stroke="#666" stroke-width="0.7"/>
<text x="587.40" y="110.36" font-size="7.06" text-anchor="end" fill="#262626" stroke="#262626" stroke-width="0.16" textLength="3.77" lengthAdjust="spacingAndGlyphs">6</text>
<line x1="588.60" y1="88.04" x2="590.20" y2="88.04" stroke="#666" stroke-width="0.7"/>
<text x="587.40" y="90.44" font-size="7.06" text-anchor="end" fill="#262626" stroke="#262626" stroke-width="0.16" textLength="3.77" lengthAdjust="spacingAndGlyphs">8</text>
<line x1="588.60" y1="68.12" x2="590.20" y2="68.12" stroke="#666" stroke-width="0.7"/>
<text x="587.40" y="70.52" font-size="7.06" text-anchor="end" fill="#262626" stroke="#262626" stroke-width="0.16" textLength="7.54" lengthAdjust="spacingAndGlyphs">10</text>
<line x1="588.60" y1="48.20" x2="590.20" y2="48.20" stroke="#666" stroke-width="0.7"/>
<text x="587.40" y="50.60" font-size="7.06" text-anchor="end" fill="#262626" stroke="#262626" stroke-width="0.16" textLength="7.54" lengthAdjust="spacingAndGlyphs">12</text>
<line x1="592.49" y1="150.40" x2="592.49" y2="152.00" stroke="#666" stroke-width="0.7"/>
<text x="592.49" y="158.00" font-size="7.06" text-anchor="middle" fill="#262626" stroke="#262626" stroke-width="0.16" textLength="3.77" lengthAdjust="spacingAndGlyphs">2</text>
<line x1="605.55" y1="150.40" x2="605.55" y2="152.00" stroke="#666" stroke-width="0.7"/>
<text x="605.55" y="158.00" font-size="7.06" text-anchor="middle" fill="#262626" stroke="#262626" stroke-width="0.16" textLength="3.77" lengthAdjust="spacingAndGlyphs">4</text>
<line x1="618.61" y1="150.40" x2="618.61" y2="152.00" stroke="#666" stroke-width="0.7"/>
<text x="618.61" y="158.00" font-size="7.06" text-anchor="middle" fill="#262626" stroke="#262626" stroke-width="0.16" textLength="3.77" lengthAdjust="spacingAndGlyphs">6</text>
<line x1="631.67" y1="150.40" x2="631.67" y2="152.00" stroke="#666" stroke-width="0.7"/>
<text x="631.67" y="158.00" font-size="7.06" text-anchor="middle" fill="#262626" stroke="#262626" stroke-width="0.16" textLength="3.77" lengthAdjust="spacingAndGlyphs">8</text>
<line x1="644.73" y1="150.40" x2="644.73" y2="152.00" stroke="#666" stroke-width="0.7"/>
<text x="644.73" y="158.00" font-size="7.06" text-anchor="middle" fill="#262626" stroke="#262626" stroke-width="0.16" textLength="7.54" lengthAdjust="spacingAndGlyphs">10</text>
<line x1="657.79" y1="150.40" x2="657.79" y2="152.00" stroke="#666" stroke-width="0.7"/>
<text x="657.79" y="158.00" font-size="7.06" text-anchor="middle" fill="#262626" stroke="#262626" stroke-width="0.16" textLength="7.54" lengthAdjust="spacingAndGlyphs">12</text>
<clipPath id="b3"><rect x="590.2" y="32.9" width="78.79999999999995" height="117.5"/></clipPath>
<g clip-path="url(#b3)">
<circle cx="664.2" cy="33.3" r="1.2" fill="#3a7fbc"/>
<circle cx="658.0" cy="50.9" r="1.2" fill="#3a7fbc"/>
<circle cx="654.8" cy="52.9" r="1.2" fill="#3a7fbc"/>
<circle cx="661.0" cy="54.5" r="1.2" fill="#3a7fbc"/>
<circle cx="650.1" cy="57.1" r="1.2" fill="#3a7fbc"/>
<circle cx="649.9" cy="59.9" r="1.2" fill="#3a7fbc"/>
<circle cx="645.0" cy="62.6" r="1.2" fill="#3a7fbc"/>
<circle cx="645.6" cy="67.0" r="1.2" fill="#3a7fbc"/>
<circle cx="643.6" cy="67.4" r="1.2" fill="#3a7fbc"/>
<circle cx="640.4" cy="68.4" r="1.2" fill="#3a7fbc"/>
<circle cx="640.0" cy="75.6" r="1.2" fill="#3a7fbc"/>
<circle cx="641.6" cy="75.0" r="1.2" fill="#3a7fbc"/>
<circle cx="643.0" cy="78.0" r="1.2" fill="#3a7fbc"/>
<circle cx="644.4" cy="80.0" r="1.2" fill="#3a7fbc"/>
<circle cx="634.0" cy="78.0" r="1.2" fill="#3a7fbc"/>
<circle cx="641.0" cy="86.0" r="1.2" fill="#3a7fbc"/>
<circle cx="628.6" cy="85.6" r="1.2" fill="#3a7fbc"/>
<circle cx="627.6" cy="89.6" r="1.2" fill="#3a7fbc"/>
<circle cx="627.6" cy="92.0" r="1.2" fill="#3a7fbc"/>
<circle cx="624.0" cy="96.6" r="1.2" fill="#3a7fbc"/>
<circle cx="621.0" cy="98.6" r="1.2" fill="#3a7fbc"/>
<circle cx="617.0" cy="99.2" r="1.2" fill="#3a7fbc"/>
<circle cx="612.0" cy="100.0" r="1.2" fill="#3a7fbc"/>
<circle cx="604.4" cy="105.0" r="1.2" fill="#3a7fbc"/>
<circle cx="608.6" cy="108.4" r="1.2" fill="#3a7fbc"/>
<circle cx="615.4" cy="107.0" r="1.2" fill="#3a7fbc"/>
<circle cx="605.0" cy="114.6" r="1.2" fill="#3a7fbc"/>
<circle cx="600.6" cy="120.0" r="1.2" fill="#3a7fbc"/>
<circle cx="602.8" cy="150.0" r="1.2" fill="#3a7fbc"/>
</g>
<rect x="622.00" y="36.60" width="43.00" height="10.40" fill="rgba(255,255,255,0.8)" stroke="#dcdcdc" stroke-width="0.7" rx="1.5"/>
<circle cx="630.4" cy="41.8" r="1.2" fill="#3a7fbc"/>
<text x="641.60" y="43.20" font-size="7.2" text-anchor="start" fill="#262626" stroke="#262626" stroke-width="0.15" textLength="20.93" lengthAdjust="spacingAndGlyphs">2.9&lt; Z</text>
<text x="629.60" y="167.60" font-size="9.64" text-anchor="middle" fill="#262626" stroke="#262626" stroke-width="0.18" textLength="5.00" lengthAdjust="spacingAndGlyphs">X</text>
<text x="576.10" y="92.00" font-size="8.76" text-anchor="middle" fill="#262626" stroke="#262626" stroke-width="0.18" textLength="4.46" lengthAdjust="spacingAndGlyphs" transform="rotate(-90 576.10 92.00)">Y</text>
<rect x="378.60" y="202.40" width="9.00" height="7.00" fill="#5b9ac6" stroke="#1f2f3f" stroke-width="0.6"/>
<rect x="387.60" y="206.10" width="9.60" height="3.30" fill="#5b9ac6" stroke="#1f2f3f" stroke-width="0.6"/>
<rect x="397.20" y="206.10" width="9.10" height="3.30" fill="#5b9ac6" stroke="#1f2f3f" stroke-width="0.6"/>
<rect x="406.30" y="193.30" width="9.10" height="16.10" fill="#5b9ac6" stroke="#1f2f3f" stroke-width="0.6"/>
<rect x="415.40" y="201.30" width="9.00" height="8.10" fill="#5b9ac6" stroke="#1f2f3f" stroke-width="0.6"/>
<rect x="424.40" y="196.40" width="9.30" height="13.00" fill="#5b9ac6" stroke="#1f2f3f" stroke-width="0.6"/>
<line x1="354.50" y1="209.40" x2="434.30" y2="209.40" stroke="#b0b0b0" stroke-width="0.9"/>
<line x1="365.16" y1="209.40" x2="365.16" y2="210.70" stroke="#777" stroke-width="0.6"/>
<line x1="376.02" y1="209.40" x2="376.02" y2="210.70" stroke="#777" stroke-width="0.6"/>
<line x1="386.88" y1="209.40" x2="386.88" y2="210.70" stroke="#777" stroke-width="0.6"/>
<line x1="397.74" y1="209.40" x2="397.74" y2="210.70" stroke="#777" stroke-width="0.6"/>
<line x1="408.60" y1="209.40" x2="408.60" y2="210.70" stroke="#777" stroke-width="0.6"/>
<line x1="419.46" y1="209.40" x2="419.46" y2="210.70" stroke="#777" stroke-width="0.6"/>
<line x1="430.32" y1="209.40" x2="430.32" y2="210.70" stroke="#777" stroke-width="0.6"/>
<rect x="436.00" y="216.30" width="10.90" height="11.10" fill="#5b9ac6" stroke="#1f2f3f" stroke-width="0.6"/>
<rect x="436.00" y="227.40" width="5.70" height="10.80" fill="#5b9ac6" stroke="#1f2f3f" stroke-width="0.6"/>
<rect x="436.00" y="238.20" width="8.80" height="11.50" fill="#5b9ac6" stroke="#1f2f3f" stroke-width="0.6"/>
<rect x="436.00" y="249.70" width="3.10" height="10.60" fill="#5b9ac6" stroke="#1f2f3f" stroke-width="0.6"/>
<rect x="436.00" y="260.30" width="1.00" height="10.90" fill="#5b9ac6" stroke="#1f2f3f" stroke-width="0.6"/>
<rect x="436.00" y="283.10" width="1.00" height="10.90" fill="#5b9ac6" stroke="#1f2f3f" stroke-width="0.6"/>
<line x1="436.00" y1="212.50" x2="436.00" y2="332.40" stroke="#b0b0b0" stroke-width="0.9"/>
<line x1="434.70" y1="316.20" x2="436.00" y2="316.20" stroke="#777" stroke-width="0.6"/>
<line x1="434.70" y1="299.70" x2="436.00" y2="299.70" stroke="#777" stroke-width="0.6"/>
<line x1="434.70" y1="283.20" x2="436.00" y2="283.20" stroke="#777" stroke-width="0.6"/>
<line x1="434.70" y1="266.70" x2="436.00" y2="266.70" stroke="#777" stroke-width="0.6"/>
<line x1="434.70" y1="250.20" x2="436.00" y2="250.20" stroke="#777" stroke-width="0.6"/>
<line x1="434.70" y1="233.70" x2="436.00" y2="233.70" stroke="#777" stroke-width="0.6"/>
<line x1="434.70" y1="217.20" x2="436.00" y2="217.20" stroke="#777" stroke-width="0.6"/>
<line x1="354.50" y1="212.50" x2="354.50" y2="332.90" stroke="#bcbcbc" stroke-width="1.1"/>
<line x1="354.00" y1="332.40" x2="434.30" y2="332.40" stroke="#bcbcbc" stroke-width="1.1"/>
<line x1="352.90" y1="316.20" x2="354.50" y2="316.20" stroke="#666" stroke-width="0.7"/>
<text x="351.70" y="318.60" font-size="7.06" text-anchor="end" fill="#262626" stroke="#262626" stroke-width="0.16" textLength="3.77" lengthAdjust="spacingAndGlyphs">2</text>
<line x1="352.90" y1="299.70" x2="354.50" y2="299.70" stroke="#666" stroke-width="0.7"/>
<text x="351.70" y="302.10" font-size="7.06" text-anchor="end" fill="#262626" stroke="#262626" stroke-width="0.16" textLength="3.77" lengthAdjust="spacingAndGlyphs">4</text>
<line x1="352.90" y1="283.20" x2="354.50" y2="283.20" stroke="#666" stroke-width="0.7"/>
<text x="351.70" y="285.60" font-size="7.06" text-anchor="end" fill="#262626" stroke="#262626" stroke-width="0.16" textLength="3.77" lengthAdjust="spacingAndGlyphs">6</text>
<line x1="352.90" y1="266.70" x2="354.50" y2="266.70" stroke="#666" stroke-width="0.7"/>
<text x="351.70" y="269.10" font-size="7.06" text-anchor="end" fill="#262626" stroke="#262626" stroke-width="0.16" textLength="3.77" lengthAdjust="spacingAndGlyphs">8</text>
<line x1="352.90" y1="250.20" x2="354.50" y2="250.20" stroke="#666" stroke-width="0.7"/>
<text x="351.70" y="252.60" font-size="7.06" text-anchor="end" fill="#262626" stroke="#262626" stroke-width="0.16" textLength="7.54" lengthAdjust="spacingAndGlyphs">10</text>
<line x1="352.90" y1="233.70" x2="354.50" y2="233.70" stroke="#666" stroke-width="0.7"/>
<text x="351.70" y="236.10" font-size="7.06" text-anchor="end" fill="#262626" stroke="#262626" stroke-width="0.16" textLength="7.54" lengthAdjust="spacingAndGlyphs">12</text>
<line x1="352.90" y1="217.20" x2="354.50" y2="217.20" stroke="#666" stroke-width="0.7"/>
<text x="351.70" y="219.60" font-size="7.06" text-anchor="end" fill="#262626" stroke="#262626" stroke-width="0.16" textLength="7.54" lengthAdjust="spacingAndGlyphs">14</text>
<line x1="365.16" y1="332.40" x2="365.16" y2="334.00" stroke="#666" stroke-width="0.7"/>
<text x="365.16" y="340.00" font-size="7.06" text-anchor="middle" fill="#262626" stroke="#262626" stroke-width="0.16" textLength="3.77" lengthAdjust="spacingAndGlyphs">2</text>
<line x1="376.02" y1="332.40" x2="376.02" y2="334.00" stroke="#666" stroke-width="0.7"/>
<text x="376.02" y="340.00" font-size="7.06" text-anchor="middle" fill="#262626" stroke="#262626" stroke-width="0.16" textLength="3.77" lengthAdjust="spacingAndGlyphs">4</text>
<line x1="386.88" y1="332.40" x2="386.88" y2="334.00" stroke="#666" stroke-width="0.7"/>
<text x="386.88" y="340.00" font-size="7.06" text-anchor="middle" fill="#262626" stroke="#262626" stroke-width="0.16" textLength="3.77" lengthAdjust="spacingAndGlyphs">6</text>
<line x1="397.74" y1="332.40" x2="397.74" y2="334.00" stroke="#666" stroke-width="0.7"/>
<text x="397.74" y="340.00" font-size="7.06" text-anchor="middle" fill="#262626" stroke="#262626" stroke-width="0.16" textLength="3.77" lengthAdjust="spacingAndGlyphs">8</text>
<line x1="408.60" y1="332.40" x2="408.60" y2="334.00" stroke="#666" stroke-width="0.7"/>
<text x="408.60" y="340.00" font-size="7.06" text-anchor="middle" fill="#262626" stroke="#262626" stroke-width="0.16" textLength="7.54" lengthAdjust="spacingAndGlyphs">10</text>
<line x1="419.46" y1="332.40" x2="419.46" y2="334.00" stroke="#666" stroke-width="0.7"/>
<text x="419.46" y="340.00" font-size="7.06" text-anchor="middle" fill="#262626" stroke="#262626" stroke-width="0.16" textLength="7.54" lengthAdjust="spacingAndGlyphs">12</text>
<line x1="430.32" y1="332.40" x2="430.32" y2="334.00" stroke="#666" stroke-width="0.7"/>
<text x="430.32" y="340.00" font-size="7.06" text-anchor="middle" fill="#262626" stroke="#262626" stroke-width="0.16" textLength="7.54" lengthAdjust="spacingAndGlyphs">14</text>
<clipPath id="c1"><rect x="354.5" y="212.5" width="79.80000000000001" height="119.89999999999998"/></clipPath>
<g clip-path="url(#c1)">
<circle cx="399.9" cy="216.0" r="1.2" fill="#3a7fbc"/>
<circle cx="378.9" cy="223.7" r="1.2" fill="#3a7fbc"/>
<circle cx="378.9" cy="227.1" r="1.2" fill="#3a7fbc"/>
<circle cx="396.3" cy="224.1" r="1.2" fill="#3a7fbc"/>
<circle cx="386.9" cy="237.9" r="1.2" fill="#3a7fbc"/>
<circle cx="403.7" cy="239.5" r="1.2" fill="#3a7fbc"/>
<circle cx="395.7" cy="248.1" r="1.2" fill="#3a7fbc"/>
<circle cx="384.3" cy="263.7" r="1.2" fill="#3a7fbc"/>
<circle cx="406.0" cy="216.9" r="1.2" fill="#3a7fbc"/>
<circle cx="408.9" cy="227.1" r="1.2" fill="#3a7fbc"/>
<circle cx="412.0" cy="231.9" r="1.2" fill="#3a7fbc"/>
<circle cx="411.7" cy="235.4" r="1.2" fill="#3a7fbc"/>
<circle cx="415.1" cy="230.9" r="1.2" fill="#3a7fbc"/>
<circle cx="418.5" cy="227.1" r="1.2" fill="#3a7fbc"/>
<circle cx="420.2" cy="224.6" r="1.2" fill="#3a7fbc"/>
<circle cx="428.3" cy="220.6" r="1.2" fill="#3a7fbc"/>
<circle cx="430.5" cy="223.4" r="1.2" fill="#3a7fbc"/>
<circle cx="428.8" cy="225.9" r="1.2" fill="#3a7fbc"/>
<circle cx="433.4" cy="222.3" r="1.2" fill="#3a7fbc"/>
<circle cx="427.4" cy="234.9" r="1.2" fill="#3a7fbc"/>
<circle cx="410.8" cy="240.9" r="1.2" fill="#3a7fbc"/>
<circle cx="412.9" cy="240.0" r="1.2" fill="#3a7fbc"/>
<circle cx="411.7" cy="242.6" r="1.2" fill="#3a7fbc"/>
<circle cx="424.9" cy="241.2" r="1.2" fill="#3a7fbc"/>
<circle cx="424.9" cy="243.9" r="1.2" fill="#3a7fbc"/>
<circle cx="423.5" cy="246.5" r="1.2" fill="#3a7fbc"/>
<circle cx="425.2" cy="246.5" r="1.2" fill="#3a7fbc"/>
<circle cx="410.8" cy="251.7" r="1.2" fill="#3a7fbc"/>
<circle cx="421.4" cy="258.0" r="1.2" fill="#3a7fbc"/>
<circle cx="421.4" cy="293.8" r="1.2" fill="#3a7fbc"/>
</g>
<rect x="357.30" y="318.60" width="50.00" height="10.20" fill="rgba(255,255,255,0.8)" stroke="#dcdcdc" stroke-width="0.7" rx="1.5"/>
<circle cx="366.0" cy="324.1" r="1.2" fill="#3a7fbc"/>
<text x="377.30" y="325.50" font-size="7.2" text-anchor="start" fill="#262626" stroke="#262626" stroke-width="0.15" textLength="26.75" lengthAdjust="spacingAndGlyphs">Z &lt; 1.78</text>
<text x="394.40" y="349.20" font-size="9.64" text-anchor="middle" fill="#262626" stroke="#262626" stroke-width="0.18" textLength="5.00" lengthAdjust="spacingAndGlyphs">X</text>
<text x="339.70" y="272.60" font-size="8.76" text-anchor="middle" fill="#262626" stroke="#262626" stroke-width="0.18" textLength="4.46" lengthAdjust="spacingAndGlyphs" transform="rotate(-90 339.70 272.60)">Y</text>
<rect x="491.10" y="201.30" width="10.20" height="8.00" fill="#5b9ac6" stroke="#1f2f3f" stroke-width="0.6"/>
<rect x="511.20" y="208.10" width="9.90" height="1.20" fill="#5b9ac6" stroke="#1f2f3f" stroke-width="0.6"/>
<rect x="521.10" y="201.30" width="10.30" height="8.00" fill="#5b9ac6" stroke="#1f2f3f" stroke-width="0.6"/>
<rect x="531.40" y="202.30" width="9.70" height="7.00" fill="#5b9ac6" stroke="#1f2f3f" stroke-width="0.6"/>
<rect x="541.10" y="193.20" width="9.80" height="16.10" fill="#5b9ac6" stroke="#1f2f3f" stroke-width="0.6"/>
<line x1="473.20" y1="209.30" x2="552.50" y2="209.30" stroke="#b0b0b0" stroke-width="0.9"/>
<line x1="483.40" y1="209.30" x2="483.40" y2="210.60" stroke="#777" stroke-width="0.6"/>
<line x1="494.34" y1="209.30" x2="494.34" y2="210.60" stroke="#777" stroke-width="0.6"/>
<line x1="505.27" y1="209.30" x2="505.27" y2="210.60" stroke="#777" stroke-width="0.6"/>
<line x1="516.21" y1="209.30" x2="516.21" y2="210.60" stroke="#777" stroke-width="0.6"/>
<line x1="527.14" y1="209.30" x2="527.14" y2="210.60" stroke="#777" stroke-width="0.6"/>
<line x1="538.07" y1="209.30" x2="538.07" y2="210.60" stroke="#777" stroke-width="0.6"/>
<line x1="549.01" y1="209.30" x2="549.01" y2="210.60" stroke="#777" stroke-width="0.6"/>
<rect x="554.40" y="220.10" width="11.50" height="9.40" fill="#5b9ac6" stroke="#1f2f3f" stroke-width="0.6"/>
<rect x="554.40" y="229.50" width="6.40" height="9.80" fill="#5b9ac6" stroke="#1f2f3f" stroke-width="0.6"/>
<rect x="554.40" y="239.30" width="3.50" height="9.90" fill="#5b9ac6" stroke="#1f2f3f" stroke-width="0.6"/>
<rect x="554.40" y="249.20" width="1.00" height="9.10" fill="#5b9ac6" stroke="#1f2f3f" stroke-width="0.6"/>
<rect x="554.40" y="288.30" width="0.60" height="9.50" fill="#5b9ac6" stroke="#1f2f3f" stroke-width="0.6"/>
<rect x="554.40" y="297.80" width="0.60" height="9.50" fill="#5b9ac6" stroke="#1f2f3f" stroke-width="0.6"/>
<rect x="554.40" y="307.30" width="3.20" height="9.20" fill="#5b9ac6" stroke="#1f2f3f" stroke-width="0.6"/>
<line x1="554.40" y1="212.60" x2="554.40" y2="331.90" stroke="#b0b0b0" stroke-width="0.9"/>
<line x1="553.10" y1="316.20" x2="554.40" y2="316.20" stroke="#777" stroke-width="0.6"/>
<line x1="553.10" y1="299.65" x2="554.40" y2="299.65" stroke="#777" stroke-width="0.6"/>
<line x1="553.10" y1="283.10" x2="554.40" y2="283.10" stroke="#777" stroke-width="0.6"/>
<line x1="553.10" y1="266.55" x2="554.40" y2="266.55" stroke="#777" stroke-width="0.6"/>
<line x1="553.10" y1="250.00" x2="554.40" y2="250.00" stroke="#777" stroke-width="0.6"/>
<line x1="553.10" y1="233.45" x2="554.40" y2="233.45" stroke="#777" stroke-width="0.6"/>
<line x1="553.10" y1="216.90" x2="554.40" y2="216.90" stroke="#777" stroke-width="0.6"/>
<line x1="473.20" y1="212.60" x2="473.20" y2="332.40" stroke="#bcbcbc" stroke-width="1.1"/>
<line x1="472.70" y1="331.90" x2="552.50" y2="331.90" stroke="#bcbcbc" stroke-width="1.1"/>
<line x1="471.60" y1="316.20" x2="473.20" y2="316.20" stroke="#666" stroke-width="0.7"/>
<text x="470.40" y="318.60" font-size="7.06" text-anchor="end" fill="#262626" stroke="#262626" stroke-width="0.16" textLength="3.77" lengthAdjust="spacingAndGlyphs">2</text>
<line x1="471.60" y1="299.65" x2="473.20" y2="299.65" stroke="#666" stroke-width="0.7"/>
<text x="470.40" y="302.05" font-size="7.06" text-anchor="end" fill="#262626" stroke="#262626" stroke-width="0.16" textLength="3.77" lengthAdjust="spacingAndGlyphs">4</text>
<line x1="471.60" y1="283.10" x2="473.20" y2="283.10" stroke="#666" stroke-width="0.7"/>
<text x="470.40" y="285.50" font-size="7.06" text-anchor="end" fill="#262626" stroke="#262626" stroke-width="0.16" textLength="3.77" lengthAdjust="spacingAndGlyphs">6</text>
<line x1="471.60" y1="266.55" x2="473.20" y2="266.55" stroke="#666" stroke-width="0.7"/>
<text x="470.40" y="268.95" font-size="7.06" text-anchor="end" fill="#262626" stroke="#262626" stroke-width="0.16" textLength="3.77" lengthAdjust="spacingAndGlyphs">8</text>
<line x1="471.60" y1="250.00" x2="473.20" y2="250.00" stroke="#666" stroke-width="0.7"/>
<text x="470.40" y="252.40" font-size="7.06" text-anchor="end" fill="#262626" stroke="#262626" stroke-width="0.16" textLength="7.54" lengthAdjust="spacingAndGlyphs">10</text>
<line x1="471.60" y1="233.45" x2="473.20" y2="233.45" stroke="#666" stroke-width="0.7"/>
<text x="470.40" y="235.85" font-size="7.06" text-anchor="end" fill="#262626" stroke="#262626" stroke-width="0.16" textLength="7.54" lengthAdjust="spacingAndGlyphs">12</text>
<line x1="471.60" y1="216.90" x2="473.20" y2="216.90" stroke="#666" stroke-width="0.7"/>
<text x="470.40" y="219.30" font-size="7.06" text-anchor="end" fill="#262626" stroke="#262626" stroke-width="0.16" textLength="7.54" lengthAdjust="spacingAndGlyphs">14</text>
<line x1="483.40" y1="331.90" x2="483.40" y2="333.50" stroke="#666" stroke-width="0.7"/>
<text x="483.40" y="339.50" font-size="7.06" text-anchor="middle" fill="#262626" stroke="#262626" stroke-width="0.16" textLength="3.77" lengthAdjust="spacingAndGlyphs">2</text>
<line x1="494.34" y1="331.90" x2="494.34" y2="333.50" stroke="#666" stroke-width="0.7"/>
<text x="494.34" y="339.50" font-size="7.06" text-anchor="middle" fill="#262626" stroke="#262626" stroke-width="0.16" textLength="3.77" lengthAdjust="spacingAndGlyphs">4</text>
<line x1="505.27" y1="331.90" x2="505.27" y2="333.50" stroke="#666" stroke-width="0.7"/>
<text x="505.27" y="339.50" font-size="7.06" text-anchor="middle" fill="#262626" stroke="#262626" stroke-width="0.16" textLength="3.77" lengthAdjust="spacingAndGlyphs">6</text>
<line x1="516.21" y1="331.90" x2="516.21" y2="333.50" stroke="#666" stroke-width="0.7"/>
<text x="516.21" y="339.50" font-size="7.06" text-anchor="middle" fill="#262626" stroke="#262626" stroke-width="0.16" textLength="3.77" lengthAdjust="spacingAndGlyphs">8</text>
<line x1="527.14" y1="331.90" x2="527.14" y2="333.50" stroke="#666" stroke-width="0.7"/>
<text x="527.14" y="339.50" font-size="7.06" text-anchor="middle" fill="#262626" stroke="#262626" stroke-width="0.16" textLength="7.54" lengthAdjust="spacingAndGlyphs">10</text>
<line x1="538.07" y1="331.90" x2="538.07" y2="333.50" stroke="#666" stroke-width="0.7"/>
<text x="538.07" y="339.50" font-size="7.06" text-anchor="middle" fill="#262626" stroke="#262626" stroke-width="0.16" textLength="7.54" lengthAdjust="spacingAndGlyphs">12</text>
<line x1="549.01" y1="331.90" x2="549.01" y2="333.50" stroke="#666" stroke-width="0.7"/>
<text x="549.01" y="339.50" font-size="7.06" text-anchor="middle" fill="#262626" stroke="#262626" stroke-width="0.16" textLength="7.54" lengthAdjust="spacingAndGlyphs">14</text>
<clipPath id="c2"><rect x="473.2" y="212.6" width="79.30000000000001" height="119.29999999999998"/></clipPath>
<g clip-path="url(#c2)">
<circle cx="494.4" cy="220.6" r="1.2" fill="#3a7fbc"/>
<circle cx="498.2" cy="230.9" r="1.2" fill="#3a7fbc"/>
<circle cx="496.5" cy="235.7" r="1.2" fill="#3a7fbc"/>
<circle cx="549.4" cy="219.9" r="1.2" fill="#3a7fbc"/>
<circle cx="551.1" cy="223.7" r="1.2" fill="#3a7fbc"/>
<circle cx="548.9" cy="224.6" r="1.2" fill="#3a7fbc"/>
<circle cx="546.8" cy="225.8" r="1.2" fill="#3a7fbc"/>
<circle cx="544.6" cy="224.6" r="1.2" fill="#3a7fbc"/>
<circle cx="543.7" cy="227.7" r="1.2" fill="#3a7fbc"/>
<circle cx="548.0" cy="229.2" r="1.2" fill="#3a7fbc"/>
<circle cx="527.9" cy="227.1" r="1.2" fill="#3a7fbc"/>
<circle cx="529.5" cy="230.6" r="1.2" fill="#3a7fbc"/>
<circle cx="531.4" cy="231.8" r="1.2" fill="#3a7fbc"/>
<circle cx="533.1" cy="228.9" r="1.2" fill="#3a7fbc"/>
<circle cx="534.6" cy="230.6" r="1.2" fill="#3a7fbc"/>
<circle cx="542.5" cy="234.9" r="1.2" fill="#3a7fbc"/>
<circle cx="522.3" cy="241.4" r="1.2" fill="#3a7fbc"/>
<circle cx="530.3" cy="241.4" r="1.2" fill="#3a7fbc"/>
<circle cx="519.7" cy="245.1" r="1.2" fill="#3a7fbc"/>
<circle cx="536.9" cy="255.9" r="1.2" fill="#3a7fbc"/>
<circle cx="495.6" cy="296.6" r="1.2" fill="#3a7fbc"/>
<circle cx="528.6" cy="304.4" r="1.2" fill="#3a7fbc"/>
<circle cx="497.4" cy="310.0" r="1.2" fill="#3a7fbc"/>
<circle cx="536.6" cy="313.4" r="1.2" fill="#3a7fbc"/>
<circle cx="491.0" cy="316.6" r="1.2" fill="#3a7fbc"/>
</g>
<rect x="475.80" y="318.70" width="67.40" height="10.50" fill="rgba(255,255,255,0.8)" stroke="#dcdcdc" stroke-width="0.7" rx="1.5"/>
<circle cx="484.5" cy="324.1" r="1.2" fill="#3a7fbc"/>
<text x="496.20" y="325.70" font-size="7.2" text-anchor="start" fill="#262626" stroke="#262626" stroke-width="0.15" textLength="43.50" lengthAdjust="spacingAndGlyphs">1.78≤ Z ≤ 2.8</text>
<text x="513.00" y="349.40" font-size="9.64" text-anchor="middle" fill="#262626" stroke="#262626" stroke-width="0.18" textLength="5.00" lengthAdjust="spacingAndGlyphs">X</text>
<text x="458.40" y="272.50" font-size="8.76" text-anchor="middle" fill="#262626" stroke="#262626" stroke-width="0.18" textLength="4.46" lengthAdjust="spacingAndGlyphs" transform="rotate(-90 458.40 272.50)">Y</text>
<rect x="603.40" y="204.40" width="8.10" height="4.80" fill="#5b9ac6" stroke="#1f2f3f" stroke-width="0.6"/>
<rect x="611.50" y="193.70" width="8.00" height="15.50" fill="#5b9ac6" stroke="#1f2f3f" stroke-width="0.6"/>
<rect x="619.50" y="203.30" width="8.20" height="5.90" fill="#5b9ac6" stroke="#1f2f3f" stroke-width="0.6"/>
<rect x="627.70" y="206.80" width="8.00" height="2.40" fill="#5b9ac6" stroke="#1f2f3f" stroke-width="0.6"/>
<rect x="635.70" y="206.20" width="8.40" height="3.00" fill="#5b9ac6" stroke="#1f2f3f" stroke-width="0.6"/>
<rect x="644.10" y="196.10" width="8.50" height="13.10" fill="#5b9ac6" stroke="#1f2f3f" stroke-width="0.6"/>
<rect x="652.60" y="200.60" width="7.80" height="8.60" fill="#5b9ac6" stroke="#1f2f3f" stroke-width="0.6"/>
<rect x="660.40" y="193.30" width="8.60" height="15.90" fill="#5b9ac6" stroke="#1f2f3f" stroke-width="0.6"/>
<line x1="591.70" y1="209.20" x2="670.90" y2="209.20" stroke="#b0b0b0" stroke-width="0.9"/>
<line x1="602.30" y1="209.20" x2="602.30" y2="210.50" stroke="#777" stroke-width="0.6"/>
<line x1="613.34" y1="209.20" x2="613.34" y2="210.50" stroke="#777" stroke-width="0.6"/>
<line x1="624.37" y1="209.20" x2="624.37" y2="210.50" stroke="#777" stroke-width="0.6"/>
<line x1="635.41" y1="209.20" x2="635.41" y2="210.50" stroke="#777" stroke-width="0.6"/>
<line x1="646.44" y1="209.20" x2="646.44" y2="210.50" stroke="#777" stroke-width="0.6"/>
<line x1="657.47" y1="209.20" x2="657.47" y2="210.50" stroke="#777" stroke-width="0.6"/>
<line x1="668.51" y1="209.20" x2="668.51" y2="210.50" stroke="#777" stroke-width="0.6"/>
<rect x="673.40" y="214.00" width="10.60" height="14.60" fill="#5b9ac6" stroke="#1f2f3f" stroke-width="0.6"/>
<rect x="673.40" y="228.60" width="8.60" height="14.60" fill="#5b9ac6" stroke="#1f2f3f" stroke-width="0.6"/>
<rect x="673.40" y="243.20" width="8.00" height="14.80" fill="#5b9ac6" stroke="#1f2f3f" stroke-width="0.6"/>
<rect x="673.40" y="273.30" width="2.10" height="15.00" fill="#5b9ac6" stroke="#1f2f3f" stroke-width="0.6"/>
<rect x="673.40" y="288.30" width="5.10" height="14.50" fill="#5b9ac6" stroke="#1f2f3f" stroke-width="0.6"/>
<rect x="673.40" y="302.80" width="6.90" height="14.50" fill="#5b9ac6" stroke="#1f2f3f" stroke-width="0.6"/>
<rect x="673.40" y="317.30" width="3.70" height="14.80" fill="#5b9ac6" stroke="#1f2f3f" stroke-width="0.6"/>
<line x1="673.40" y1="212.10" x2="673.40" y2="332.30" stroke="#b0b0b0" stroke-width="0.9"/>
<line x1="672.10" y1="316.40" x2="673.40" y2="316.40" stroke="#777" stroke-width="0.6"/>
<line x1="672.10" y1="299.90" x2="673.40" y2="299.90" stroke="#777" stroke-width="0.6"/>
<line x1="672.10" y1="283.40" x2="673.40" y2="283.40" stroke="#777" stroke-width="0.6"/>
<line x1="672.10" y1="266.90" x2="673.40" y2="266.90" stroke="#777" stroke-width="0.6"/>
<line x1="672.10" y1="250.40" x2="673.40" y2="250.40" stroke="#777" stroke-width="0.6"/>
<line x1="672.10" y1="233.90" x2="673.40" y2="233.90" stroke="#777" stroke-width="0.6"/>
<line x1="672.10" y1="217.40" x2="673.40" y2="217.40" stroke="#777" stroke-width="0.6"/>
<line x1="591.70" y1="212.10" x2="591.70" y2="332.80" stroke="#bcbcbc" stroke-width="1.1"/>
<line x1="591.20" y1="332.30" x2="670.90" y2="332.30" stroke="#bcbcbc" stroke-width="1.1"/>
<line x1="590.10" y1="316.40" x2="591.70" y2="316.40" stroke="#666" stroke-width="0.7"/>
<text x="588.90" y="318.80" font-size="7.06" text-anchor="end" fill="#262626" stroke="#262626" stroke-width="0.16" textLength="3.77" lengthAdjust="spacingAndGlyphs">2</text>
<line x1="590.10" y1="299.90" x2="591.70" y2="299.90" stroke="#666" stroke-width="0.7"/>
<text x="588.90" y="302.30" font-size="7.06" text-anchor="end" fill="#262626" stroke="#262626" stroke-width="0.16" textLength="3.77" lengthAdjust="spacingAndGlyphs">4</text>
<line x1="590.10" y1="283.40" x2="591.70" y2="283.40" stroke="#666" stroke-width="0.7"/>
<text x="588.90" y="285.80" font-size="7.06" text-anchor="end" fill="#262626" stroke="#262626" stroke-width="0.16" textLength="3.77" lengthAdjust="spacingAndGlyphs">6</text>
<line x1="590.10" y1="266.90" x2="591.70" y2="266.90" stroke="#666" stroke-width="0.7"/>
<text x="588.90" y="269.30" font-size="7.06" text-anchor="end" fill="#262626" stroke="#262626" stroke-width="0.16" textLength="3.77" lengthAdjust="spacingAndGlyphs">8</text>
<line x1="590.10" y1="250.40" x2="591.70" y2="250.40" stroke="#666" stroke-width="0.7"/>
<text x="588.90" y="252.80" font-size="7.06" text-anchor="end" fill="#262626" stroke="#262626" stroke-width="0.16" textLength="7.54" lengthAdjust="spacingAndGlyphs">10</text>
<line x1="590.10" y1="233.90" x2="591.70" y2="233.90" stroke="#666" stroke-width="0.7"/>
<text x="588.90" y="236.30" font-size="7.06" text-anchor="end" fill="#262626" stroke="#262626" stroke-width="0.16" textLength="7.54" lengthAdjust="spacingAndGlyphs">12</text>
<line x1="590.10" y1="217.40" x2="591.70" y2="217.40" stroke="#666" stroke-width="0.7"/>
<text x="588.90" y="219.80" font-size="7.06" text-anchor="end" fill="#262626" stroke="#262626" stroke-width="0.16" textLength="7.54" lengthAdjust="spacingAndGlyphs">14</text>
<line x1="602.30" y1="332.30" x2="602.30" y2="333.90" stroke="#666" stroke-width="0.7"/>
<text x="602.30" y="339.90" font-size="7.06" text-anchor="middle" fill="#262626" stroke="#262626" stroke-width="0.16" textLength="3.77" lengthAdjust="spacingAndGlyphs">2</text>
<line x1="613.34" y1="332.30" x2="613.34" y2="333.90" stroke="#666" stroke-width="0.7"/>
<text x="613.34" y="339.90" font-size="7.06" text-anchor="middle" fill="#262626" stroke="#262626" stroke-width="0.16" textLength="3.77" lengthAdjust="spacingAndGlyphs">4</text>
<line x1="624.37" y1="332.30" x2="624.37" y2="333.90" stroke="#666" stroke-width="0.7"/>
<text x="624.37" y="339.90" font-size="7.06" text-anchor="middle" fill="#262626" stroke="#262626" stroke-width="0.16" textLength="3.77" lengthAdjust="spacingAndGlyphs">6</text>
<line x1="635.41" y1="332.30" x2="635.41" y2="333.90" stroke="#666" stroke-width="0.7"/>
<text x="635.41" y="339.90" font-size="7.06" text-anchor="middle" fill="#262626" stroke="#262626" stroke-width="0.16" textLength="3.77" lengthAdjust="spacingAndGlyphs">8</text>
<line x1="646.44" y1="332.30" x2="646.44" y2="333.90" stroke="#666" stroke-width="0.7"/>
<text x="646.44" y="339.90" font-size="7.06" text-anchor="middle" fill="#262626" stroke="#262626" stroke-width="0.16" textLength="7.54" lengthAdjust="spacingAndGlyphs">10</text>
<line x1="657.47" y1="332.30" x2="657.47" y2="333.90" stroke="#666" stroke-width="0.7"/>
<text x="657.47" y="339.90" font-size="7.06" text-anchor="middle" fill="#262626" stroke="#262626" stroke-width="0.16" textLength="7.54" lengthAdjust="spacingAndGlyphs">12</text>
<line x1="668.51" y1="332.30" x2="668.51" y2="333.90" stroke="#666" stroke-width="0.7"/>
<text x="668.51" y="339.90" font-size="7.06" text-anchor="middle" fill="#262626" stroke="#262626" stroke-width="0.16" textLength="7.54" lengthAdjust="spacingAndGlyphs">14</text>
<clipPath id="c3"><rect x="591.7" y="212.1" width="79.19999999999993" height="120.20000000000002"/></clipPath>
<g clip-path="url(#c3)">
<circle cx="667.7" cy="213.8" r="1.2" fill="#3a7fbc"/>
<circle cx="665.7" cy="219.4" r="1.2" fill="#3a7fbc"/>
<circle cx="669.1" cy="221.7" r="1.2" fill="#3a7fbc"/>
<circle cx="667.4" cy="222.9" r="1.2" fill="#3a7fbc"/>
<circle cx="662.6" cy="223.4" r="1.2" fill="#3a7fbc"/>
<circle cx="661.7" cy="225.1" r="1.2" fill="#3a7fbc"/>
<circle cx="664.3" cy="225.1" r="1.2" fill="#3a7fbc"/>
<circle cx="666.0" cy="225.8" r="1.2" fill="#3a7fbc"/>
<circle cx="668.1" cy="225.1" r="1.2" fill="#3a7fbc"/>
<circle cx="660.0" cy="226.3" r="1.2" fill="#3a7fbc"/>
<circle cx="663.4" cy="227.1" r="1.2" fill="#3a7fbc"/>
<circle cx="667.7" cy="227.1" r="1.2" fill="#3a7fbc"/>
<circle cx="660.5" cy="228.0" r="1.2" fill="#3a7fbc"/>
<circle cx="665.1" cy="228.5" r="1.2" fill="#3a7fbc"/>
<circle cx="662.6" cy="229.2" r="1.2" fill="#3a7fbc"/>
<circle cx="665.1" cy="230.6" r="1.2" fill="#3a7fbc"/>
<circle cx="662.2" cy="232.3" r="1.2" fill="#3a7fbc"/>
<circle cx="655.7" cy="227.1" r="1.2" fill="#3a7fbc"/>
<circle cx="654.0" cy="230.2" r="1.2" fill="#3a7fbc"/>
<circle cx="652.3" cy="233.1" r="1.2" fill="#3a7fbc"/>
<circle cx="646.3" cy="231.4" r="1.2" fill="#3a7fbc"/>
<circle cx="648.9" cy="234.0" r="1.2" fill="#3a7fbc"/>
<circle cx="642.9" cy="234.5" r="1.2" fill="#3a7fbc"/>
<circle cx="647.1" cy="236.9" r="1.2" fill="#3a7fbc"/>
<circle cx="653.1" cy="237.9" r="1.2" fill="#3a7fbc"/>
<circle cx="658.8" cy="236.6" r="1.2" fill="#3a7fbc"/>
<circle cx="649.2" cy="240.0" r="1.2" fill="#3a7fbc"/>
<circle cx="650.6" cy="240.9" r="1.2" fill="#3a7fbc"/>
<circle cx="648.0" cy="241.7" r="1.2" fill="#3a7fbc"/>
<circle cx="656.6" cy="240.0" r="1.2" fill="#3a7fbc"/>
<circle cx="654.9" cy="242.6" r="1.2" fill="#3a7fbc"/>
<circle cx="658.3" cy="244.3" r="1.2" fill="#3a7fbc"/>
<circle cx="647.1" cy="245.1" r="1.2" fill="#3a7fbc"/>
<circle cx="649.2" cy="245.1" r="1.2" fill="#3a7fbc"/>
<circle cx="650.6" cy="246.0" r="1.2" fill="#3a7fbc"/>
<circle cx="630.9" cy="228.9" r="1.2" fill="#3a7fbc"/>
<circle cx="630.5" cy="247.4" r="1.2" fill="#3a7fbc"/>
<circle cx="667.7" cy="249.8" r="1.2" fill="#3a7fbc"/>
<circle cx="640.6" cy="251.7" r="1.2" fill="#3a7fbc"/>
<circle cx="650.9" cy="251.7" r="1.2" fill="#3a7fbc"/>
<circle cx="639.9" cy="254.9" r="1.2" fill="#3a7fbc"/>
<circle cx="642.3" cy="256.6" r="1.2" fill="#3a7fbc"/>
<circle cx="646.6" cy="254.2" r="1.2" fill="#3a7fbc"/>
<circle cx="650.9" cy="254.9" r="1.2" fill="#3a7fbc"/>
<circle cx="648.0" cy="263.5" r="1.2" fill="#3a7fbc"/>
<circle cx="626.7" cy="249.3" r="1.2" fill="#3a7fbc"/>
<circle cx="627.0" cy="275.1" r="1.2" fill="#3a7fbc"/>
<circle cx="625.8" cy="280.2" r="1.2" fill="#3a7fbc"/>
<circle cx="618.9" cy="283.3" r="1.2" fill="#3a7fbc"/>
<circle cx="630.7" cy="296.8" r="1.2" fill="#3a7fbc"/>
<circle cx="649.4" cy="299.8" r="1.2" fill="#3a7fbc"/>
<circle cx="618.3" cy="285.8" r="1.2" fill="#3a7fbc"/>
<circle cx="615.2" cy="289.5" r="1.2" fill="#3a7fbc"/>
<circle cx="618.5" cy="289.5" r="1.2" fill="#3a7fbc"/>
<circle cx="617.4" cy="297.0" r="1.2" fill="#3a7fbc"/>
<circle cx="612.9" cy="300.1" r="1.2" fill="#3a7fbc"/>
<circle cx="616.1" cy="300.7" r="1.2" fill="#3a7fbc"/>
<circle cx="619.8" cy="298.8" r="1.2" fill="#3a7fbc"/>
<circle cx="621.1" cy="297.0" r="1.2" fill="#3a7fbc"/>
<circle cx="618.9" cy="303.5" r="1.2" fill="#3a7fbc"/>
<circle cx="626.7" cy="303.8" r="1.2" fill="#3a7fbc"/>
<circle cx="623.0" cy="304.9" r="1.2" fill="#3a7fbc"/>
<circle cx="617.0" cy="306.8" r="1.2" fill="#3a7fbc"/>
<circle cx="619.8" cy="307.2" r="1.2" fill="#3a7fbc"/>
<circle cx="608.3" cy="308.1" r="1.2" fill="#3a7fbc"/>
<circle cx="615.2" cy="310.0" r="1.2" fill="#3a7fbc"/>
<circle cx="618.0" cy="310.0" r="1.2" fill="#3a7fbc"/>
<circle cx="603.1" cy="310.9" r="1.2" fill="#3a7fbc"/>
<circle cx="607.7" cy="313.7" r="1.2" fill="#3a7fbc"/>
<circle cx="610.5" cy="313.7" r="1.2" fill="#3a7fbc"/>
<circle cx="609.0" cy="315.0" r="1.2" fill="#3a7fbc"/>
<circle cx="617.0" cy="313.7" r="1.2" fill="#3a7fbc"/>
<circle cx="612.9" cy="318.0" r="1.2" fill="#3a7fbc"/>
<circle cx="606.2" cy="322.0" r="1.2" fill="#3a7fbc"/>
<circle cx="612.4" cy="321.7" r="1.2" fill="#3a7fbc"/>
<circle cx="614.8" cy="322.4" r="1.2" fill="#3a7fbc"/>
<circle cx="612.9" cy="326.3" r="1.2" fill="#3a7fbc"/>
<circle cx="611.4" cy="332.3" r="1.2" fill="#3a7fbc"/>
</g>
<rect x="594.60" y="215.30" width="43.50" height="11.30" fill="rgba(255,255,255,0.8)" stroke="#dcdcdc" stroke-width="0.7" rx="1.5"/>
<circle cx="603.4" cy="221.4" r="1.2" fill="#3a7fbc"/>
<text x="614.30" y="223.00" font-size="7.2" text-anchor="start" fill="#262626" stroke="#262626" stroke-width="0.15" textLength="20.93" lengthAdjust="spacingAndGlyphs">2.8&lt; Z</text>
<text x="631.60" y="349.40" font-size="9.64" text-anchor="middle" fill="#262626" stroke="#262626" stroke-width="0.18" textLength="5.00" lengthAdjust="spacingAndGlyphs">X</text>
<text x="577.30" y="272.50" font-size="8.76" text-anchor="middle" fill="#262626" stroke="#262626" stroke-width="0.18" textLength="4.46" lengthAdjust="spacingAndGlyphs" transform="rotate(-90 577.30 272.50)">Y</text>
<text x="336.80" y="19.90" font-size="14.49" text-anchor="start" fill="#262626" stroke="#262626" stroke-width="0" textLength="20.12" lengthAdjust="spacingAndGlyphs">(b)</text>
<text x="336.30" y="200.60" font-size="14.49" text-anchor="start" fill="#262626" stroke="#262626" stroke-width="0" textLength="18.91" lengthAdjust="spacingAndGlyphs">(c)</text>
<text x="466.00" y="6.00" font-size="8.18" text-anchor="start" fill="#262626" stroke="#262626" stroke-width="0.18" textLength="86.54" lengthAdjust="spacingAndGlyphs">Conditional distribution</text>
<text x="465.00" y="185.00" font-size="8.18" text-anchor="start" fill="#262626" stroke="#262626" stroke-width="0.18" textLength="86.54" lengthAdjust="spacingAndGlyphs">Conditional distribution</text>
<path d="M169,162 Q254.0,104.8 324.2,91.0" fill="none" stroke="#555b62" stroke-width="1.65"/>
<path d="M332,89.4 L322.9,86 L324.6,91 L325.4,96 Z" fill="#555b62" stroke="#555b62" stroke-width="0.6" stroke-linejoin="miter"/>
<path d="M150.7,178.6 Q206,227.3 320.9,260.7" fill="none" stroke="#555b62" stroke-width="1.65"/>
<path d="M328.6,261.7 L321.4,255.7 L321.0,260.7 L319.6,265.7 Z" fill="#555b62" stroke="#555b62" stroke-width="0.6" stroke-linejoin="miter"/>
</svg>
</body></html>
